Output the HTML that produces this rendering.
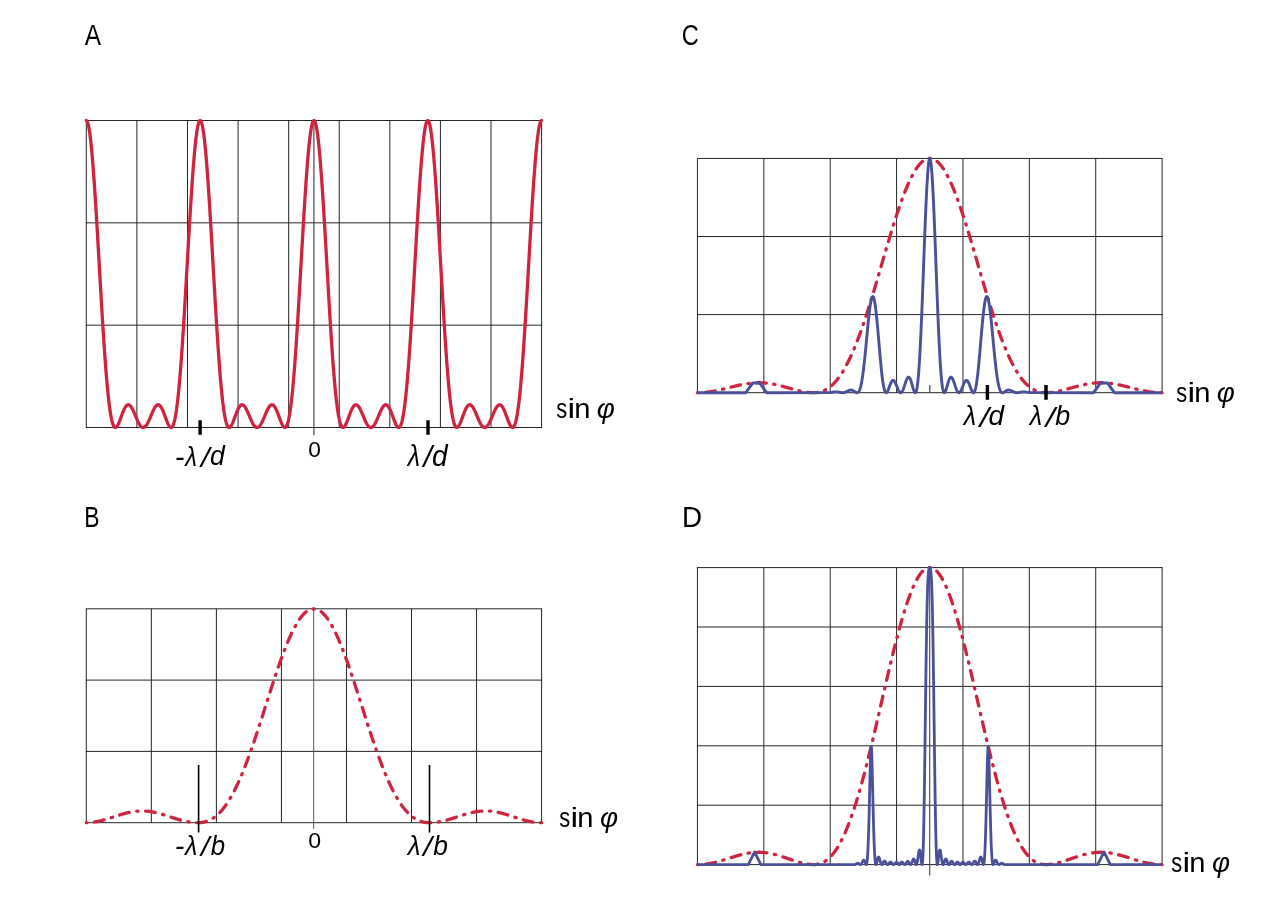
<!DOCTYPE html><html><head><meta charset="utf-8"><style>html,body{margin:0;padding:0;background:#fff;overflow:hidden}svg{display:block;will-change:transform}text{font-family:"Liberation Sans",sans-serif;fill:#000}</style></head><body>
<svg width="1280" height="912" viewBox="0 0 1280 912">
<rect width="1280" height="912" fill="#fff"/>
<path d="M86.30 120.50V427.50M136.89 120.50V427.50M187.48 120.50V427.50M238.07 120.50V427.50M288.66 120.50V427.50M339.24 120.50V427.50M389.83 120.50V427.50M440.42 120.50V427.50M491.01 120.50V427.50M541.60 120.50V427.50M85.80 120.50H542.10M85.80 222.83H542.10M85.80 325.17H542.10M85.80 427.50H542.10" stroke="#242424" stroke-width="1.0" fill="none"/>
<path d="M313.95 120.5V435.4" stroke="#242424" stroke-width="1"/>
<path d="M86.30 120.50L86.70 120.67L87.10 121.18L87.50 122.03L87.90 123.22L88.30 124.75L88.70 126.60L89.10 128.78L89.50 131.28L89.90 134.10L90.30 137.23L90.70 140.65L91.10 144.37L91.50 148.37L91.90 152.65L92.30 157.19L92.70 161.98L93.10 167.01L93.50 172.27L93.90 177.74L94.30 183.42L94.70 189.29L95.10 195.33L95.50 201.54L95.90 207.89L96.30 214.37L96.70 220.96L97.10 227.66L97.50 234.44L97.90 241.30L98.30 248.20L98.70 255.15L99.10 262.11L99.50 269.08L99.90 276.05L100.30 282.98L100.70 289.88L101.10 296.73L101.50 303.50L101.90 310.19L102.30 316.79L102.70 323.27L103.10 329.63L103.50 335.86L103.90 341.94L104.30 347.86L104.70 353.61L105.10 359.18L105.50 364.56L105.90 369.75L106.30 374.73L106.70 379.50L107.10 384.06L107.50 388.39L107.90 392.50L108.30 396.37L108.70 400.01L109.11 403.42L109.51 406.59L109.91 409.52L110.31 412.22L110.71 414.68L111.11 416.91L111.51 418.91L111.91 420.68L112.31 422.24L112.71 423.58L113.11 424.71L113.51 425.63L113.91 426.36L114.31 426.91L114.71 427.27L115.11 427.46L115.51 427.49L115.91 427.37L116.31 427.11L116.71 426.72L117.11 426.21L117.51 425.60L117.91 424.88L118.31 424.08L118.71 423.20L119.11 422.26L119.51 421.26L119.91 420.23L120.31 419.16L120.71 418.08L121.11 416.98L121.51 415.89L121.91 414.80L122.31 413.74L122.71 412.70L123.11 411.70L123.51 410.74L123.91 409.84L124.31 409.00L124.71 408.21L125.11 407.50L125.51 406.87L125.91 406.31L126.31 405.83L126.71 405.44L127.11 405.14L127.51 404.92L127.91 404.80L128.31 404.76L128.71 404.81L129.11 404.95L129.51 405.17L129.91 405.48L130.31 405.86L130.71 406.32L131.11 406.86L131.51 407.46L131.91 408.12L132.31 408.84L132.71 409.61L133.11 410.43L133.51 411.29L133.91 412.18L134.31 413.09L134.71 414.03L135.11 414.98L135.51 415.93L135.91 416.88L136.31 417.83L136.71 418.76L137.11 419.68L137.51 420.56L137.91 421.42L138.31 422.23L138.71 423.00L139.11 423.73L139.51 424.40L139.91 425.01L140.31 425.57L140.71 426.05L141.11 426.48L141.51 426.83L141.91 427.10L142.31 427.31L142.71 427.44L143.11 427.50L143.51 427.48L143.91 427.39L144.31 427.22L144.71 426.97L145.11 426.66L145.51 426.27L145.91 425.82L146.31 425.30L146.71 424.71L147.11 424.07L147.51 423.37L147.91 422.62L148.31 421.83L148.71 420.99L149.11 420.12L149.51 419.22L149.91 418.30L150.31 417.36L150.71 416.41L151.11 415.45L151.51 414.50L151.91 413.56L152.31 412.63L152.71 411.73L153.11 410.85L153.51 410.02L153.91 409.22L154.31 408.47L154.72 407.78L155.12 407.15L155.52 406.58L155.92 406.08L156.32 405.66L156.72 405.31L157.12 405.05L157.52 404.87L157.92 404.77L158.32 404.77L158.72 404.85L159.12 405.02L159.52 405.28L159.92 405.63L160.32 406.06L160.72 406.58L161.12 407.18L161.52 407.85L161.92 408.60L162.32 409.41L162.72 410.29L163.12 411.22L163.52 412.19L163.92 413.21L164.32 414.27L164.72 415.34L165.12 416.43L165.52 417.53L165.92 418.62L166.32 419.70L166.72 420.75L167.12 421.77L167.52 422.74L167.92 423.65L168.32 424.49L168.72 425.25L169.12 425.92L169.52 426.48L169.92 426.93L170.32 427.26L170.72 427.45L171.12 427.50L171.52 427.39L171.92 427.11L172.32 426.66L172.72 426.02L173.12 425.19L173.52 424.17L173.92 422.93L174.32 421.49L174.72 419.82L175.12 417.94L175.52 415.82L175.92 413.48L176.32 410.90L176.72 408.08L177.12 405.03L177.52 401.74L177.92 398.22L178.32 394.46L178.72 390.47L179.12 386.25L179.52 381.81L179.92 377.14L180.32 372.27L180.72 367.18L181.12 361.89L181.52 356.42L181.92 350.75L182.32 344.92L182.72 338.92L183.12 332.76L183.52 326.47L183.92 320.04L184.32 313.50L184.72 306.86L185.12 300.12L185.52 293.31L185.92 286.44L186.32 279.52L186.72 272.57L187.12 265.60L187.52 258.63L187.92 251.67L188.32 244.74L188.72 237.86L189.12 231.04L189.52 224.30L189.92 217.65L190.32 211.11L190.72 204.69L191.12 198.41L191.52 192.29L191.92 186.33L192.32 180.56L192.72 174.98L193.12 169.61L193.52 164.46L193.92 159.55L194.32 154.88L194.72 150.48L195.12 146.34L195.52 142.48L195.92 138.90L196.32 135.63L196.72 132.65L197.12 129.99L197.52 127.65L197.92 125.63L198.32 123.94L198.72 122.59L199.12 121.57L199.52 120.88L199.92 120.54L200.33 120.54L200.73 120.88L201.13 121.57L201.53 122.59L201.93 123.94L202.33 125.63L202.73 127.65L203.13 129.99L203.53 132.65L203.93 135.63L204.33 138.90L204.73 142.48L205.13 146.34L205.53 150.48L205.93 154.88L206.33 159.55L206.73 164.46L207.13 169.61L207.53 174.98L207.93 180.56L208.33 186.33L208.73 192.29L209.13 198.41L209.53 204.69L209.93 211.11L210.33 217.65L210.73 224.30L211.13 231.04L211.53 237.86L211.93 244.74L212.33 251.67L212.73 258.63L213.13 265.60L213.53 272.57L213.93 279.52L214.33 286.44L214.73 293.31L215.13 300.12L215.53 306.86L215.93 313.50L216.33 320.04L216.73 326.47L217.13 332.76L217.53 338.92L217.93 344.92L218.33 350.75L218.73 356.42L219.13 361.89L219.53 367.18L219.93 372.27L220.33 377.14L220.73 381.81L221.13 386.25L221.53 390.47L221.93 394.46L222.33 398.22L222.73 401.74L223.13 405.03L223.53 408.08L223.93 410.90L224.33 413.48L224.73 415.82L225.13 417.94L225.53 419.82L225.93 421.49L226.33 422.93L226.73 424.17L227.13 425.19L227.53 426.02L227.93 426.66L228.33 427.11L228.73 427.39L229.13 427.50L229.53 427.45L229.93 427.26L230.33 426.93L230.73 426.48L231.13 425.92L231.53 425.25L231.93 424.49L232.33 423.65L232.73 422.74L233.13 421.77L233.53 420.75L233.93 419.70L234.33 418.62L234.73 417.53L235.13 416.43L235.53 415.34L235.93 414.27L236.33 413.21L236.73 412.19L237.13 411.22L237.53 410.29L237.93 409.41L238.33 408.60L238.73 407.85L239.13 407.18L239.53 406.58L239.93 406.06L240.33 405.63L240.73 405.28L241.13 405.02L241.53 404.85L241.93 404.77L242.33 404.77L242.73 404.87L243.13 405.05L243.53 405.31L243.93 405.66L244.33 406.08L244.73 406.58L245.13 407.15L245.53 407.78L245.94 408.47L246.34 409.22L246.74 410.02L247.14 410.85L247.54 411.73L247.94 412.63L248.34 413.56L248.74 414.50L249.14 415.45L249.54 416.41L249.94 417.36L250.34 418.30L250.74 419.22L251.14 420.12L251.54 420.99L251.94 421.83L252.34 422.62L252.74 423.37L253.14 424.07L253.54 424.71L253.94 425.30L254.34 425.82L254.74 426.27L255.14 426.66L255.54 426.97L255.94 427.22L256.34 427.39L256.74 427.48L257.14 427.50L257.54 427.44L257.94 427.31L258.34 427.10L258.74 426.83L259.14 426.48L259.54 426.05L259.94 425.57L260.34 425.01L260.74 424.40L261.14 423.73L261.54 423.00L261.94 422.23L262.34 421.42L262.74 420.56L263.14 419.68L263.54 418.76L263.94 417.83L264.34 416.88L264.74 415.93L265.14 414.98L265.54 414.03L265.94 413.09L266.34 412.18L266.74 411.29L267.14 410.43L267.54 409.61L267.94 408.84L268.34 408.12L268.74 407.46L269.14 406.86L269.54 406.32L269.94 405.86L270.34 405.48L270.74 405.17L271.14 404.95L271.54 404.81L271.94 404.76L272.34 404.80L272.74 404.92L273.14 405.14L273.54 405.44L273.94 405.83L274.34 406.31L274.74 406.87L275.14 407.50L275.54 408.21L275.94 409.00L276.34 409.84L276.74 410.74L277.14 411.70L277.54 412.70L277.94 413.74L278.34 414.80L278.74 415.89L279.14 416.98L279.54 418.08L279.94 419.16L280.34 420.23L280.74 421.26L281.14 422.26L281.54 423.20L281.94 424.08L282.34 424.88L282.74 425.60L283.14 426.21L283.54 426.72L283.94 427.11L284.34 427.37L284.74 427.49L285.14 427.46L285.54 427.27L285.94 426.91L286.34 426.36L286.74 425.63L287.14 424.71L287.54 423.58L287.94 422.24L288.34 420.68L288.74 418.91L289.14 416.91L289.54 414.68L289.94 412.22L290.34 409.52L290.74 406.59L291.14 403.42L291.55 400.01L291.95 396.37L292.35 392.50L292.75 388.39L293.15 384.06L293.55 379.50L293.95 374.73L294.35 369.75L294.75 364.56L295.15 359.18L295.55 353.61L295.95 347.86L296.35 341.94L296.75 335.86L297.15 329.63L297.55 323.27L297.95 316.79L298.35 310.19L298.75 303.50L299.15 296.73L299.55 289.88L299.95 282.98L300.35 276.05L300.75 269.08L301.15 262.11L301.55 255.15L301.95 248.20L302.35 241.30L302.75 234.44L303.15 227.66L303.55 220.96L303.95 214.37L304.35 207.89L304.75 201.54L305.15 195.33L305.55 189.29L305.95 183.42L306.35 177.74L306.75 172.27L307.15 167.01L307.55 161.98L307.95 157.19L308.35 152.65L308.75 148.37L309.15 144.37L309.55 140.65L309.95 137.23L310.35 134.10L310.75 131.28L311.15 128.78L311.55 126.60L311.95 124.75L312.35 123.22L312.75 122.03L313.15 121.18L313.55 120.67L313.95 120.50L314.35 120.67L314.75 121.18L315.15 122.03L315.55 123.22L315.95 124.75L316.35 126.60L316.75 128.78L317.15 131.28L317.55 134.10L317.95 137.23L318.35 140.65L318.75 144.37L319.15 148.37L319.55 152.65L319.95 157.19L320.35 161.98L320.75 167.01L321.15 172.27L321.55 177.74L321.95 183.42L322.35 189.29L322.75 195.33L323.15 201.54L323.55 207.89L323.95 214.37L324.35 220.96L324.75 227.66L325.15 234.44L325.55 241.30L325.95 248.20L326.35 255.15L326.75 262.11L327.15 269.08L327.55 276.05L327.95 282.98L328.35 289.88L328.75 296.73L329.15 303.50L329.55 310.19L329.95 316.79L330.35 323.27L330.75 329.63L331.15 335.86L331.55 341.94L331.95 347.86L332.35 353.61L332.75 359.18L333.15 364.56L333.55 369.75L333.95 374.73L334.35 379.50L334.75 384.06L335.15 388.39L335.55 392.50L335.95 396.37L336.35 400.01L336.76 403.42L337.16 406.59L337.56 409.52L337.96 412.22L338.36 414.68L338.76 416.91L339.16 418.91L339.56 420.68L339.96 422.24L340.36 423.58L340.76 424.71L341.16 425.63L341.56 426.36L341.96 426.91L342.36 427.27L342.76 427.46L343.16 427.49L343.56 427.37L343.96 427.11L344.36 426.72L344.76 426.21L345.16 425.60L345.56 424.88L345.96 424.08L346.36 423.20L346.76 422.26L347.16 421.26L347.56 420.23L347.96 419.16L348.36 418.08L348.76 416.98L349.16 415.89L349.56 414.80L349.96 413.74L350.36 412.70L350.76 411.70L351.16 410.74L351.56 409.84L351.96 409.00L352.36 408.21L352.76 407.50L353.16 406.87L353.56 406.31L353.96 405.83L354.36 405.44L354.76 405.14L355.16 404.92L355.56 404.80L355.96 404.76L356.36 404.81L356.76 404.95L357.16 405.17L357.56 405.48L357.96 405.86L358.36 406.32L358.76 406.86L359.16 407.46L359.56 408.12L359.96 408.84L360.36 409.61L360.76 410.43L361.16 411.29L361.56 412.18L361.96 413.09L362.36 414.03L362.76 414.98L363.16 415.93L363.56 416.88L363.96 417.83L364.36 418.76L364.76 419.68L365.16 420.56L365.56 421.42L365.96 422.23L366.36 423.00L366.76 423.73L367.16 424.40L367.56 425.01L367.96 425.57L368.36 426.05L368.76 426.48L369.16 426.83L369.56 427.10L369.96 427.31L370.36 427.44L370.76 427.50L371.16 427.48L371.56 427.39L371.96 427.22L372.36 426.97L372.76 426.66L373.16 426.27L373.56 425.82L373.96 425.30L374.36 424.71L374.76 424.07L375.16 423.37L375.56 422.62L375.96 421.83L376.36 420.99L376.76 420.12L377.16 419.22L377.56 418.30L377.96 417.36L378.36 416.41L378.76 415.45L379.16 414.50L379.56 413.56L379.96 412.63L380.36 411.73L380.76 410.85L381.16 410.02L381.56 409.22L381.96 408.47L382.37 407.78L382.77 407.15L383.17 406.58L383.57 406.08L383.97 405.66L384.37 405.31L384.77 405.05L385.17 404.87L385.57 404.77L385.97 404.77L386.37 404.85L386.77 405.02L387.17 405.28L387.57 405.63L387.97 406.06L388.37 406.58L388.77 407.18L389.17 407.85L389.57 408.60L389.97 409.41L390.37 410.29L390.77 411.22L391.17 412.19L391.57 413.21L391.97 414.27L392.37 415.34L392.77 416.43L393.17 417.53L393.57 418.62L393.97 419.70L394.37 420.75L394.77 421.77L395.17 422.74L395.57 423.65L395.97 424.49L396.37 425.25L396.77 425.92L397.17 426.48L397.57 426.93L397.97 427.26L398.37 427.45L398.77 427.50L399.17 427.39L399.57 427.11L399.97 426.66L400.37 426.02L400.77 425.19L401.17 424.17L401.57 422.93L401.97 421.49L402.37 419.82L402.77 417.94L403.17 415.82L403.57 413.48L403.97 410.90L404.37 408.08L404.77 405.03L405.17 401.74L405.57 398.22L405.97 394.46L406.37 390.47L406.77 386.25L407.17 381.81L407.57 377.14L407.97 372.27L408.37 367.18L408.77 361.89L409.17 356.42L409.57 350.75L409.97 344.92L410.37 338.92L410.77 332.76L411.17 326.47L411.57 320.04L411.97 313.50L412.37 306.86L412.77 300.12L413.17 293.31L413.57 286.44L413.97 279.52L414.37 272.57L414.77 265.60L415.17 258.63L415.57 251.67L415.97 244.74L416.37 237.86L416.77 231.04L417.17 224.30L417.57 217.65L417.97 211.11L418.37 204.69L418.77 198.41L419.17 192.29L419.57 186.33L419.97 180.56L420.37 174.98L420.77 169.61L421.17 164.46L421.57 159.55L421.97 154.88L422.37 150.48L422.77 146.34L423.17 142.48L423.57 138.90L423.97 135.63L424.37 132.65L424.77 129.99L425.17 127.65L425.57 125.63L425.97 123.94L426.37 122.59L426.77 121.57L427.17 120.88L427.57 120.54L427.98 120.54L428.38 120.88L428.78 121.57L429.18 122.59L429.58 123.94L429.98 125.63L430.38 127.65L430.78 129.99L431.18 132.65L431.58 135.63L431.98 138.90L432.38 142.48L432.78 146.34L433.18 150.48L433.58 154.88L433.98 159.55L434.38 164.46L434.78 169.61L435.18 174.98L435.58 180.56L435.98 186.33L436.38 192.29L436.78 198.41L437.18 204.69L437.58 211.11L437.98 217.65L438.38 224.30L438.78 231.04L439.18 237.86L439.58 244.74L439.98 251.67L440.38 258.63L440.78 265.60L441.18 272.57L441.58 279.52L441.98 286.44L442.38 293.31L442.78 300.12L443.18 306.86L443.58 313.50L443.98 320.04L444.38 326.47L444.78 332.76L445.18 338.92L445.58 344.92L445.98 350.75L446.38 356.42L446.78 361.89L447.18 367.18L447.58 372.27L447.98 377.14L448.38 381.81L448.78 386.25L449.18 390.47L449.58 394.46L449.98 398.22L450.38 401.74L450.78 405.03L451.18 408.08L451.58 410.90L451.98 413.48L452.38 415.82L452.78 417.94L453.18 419.82L453.58 421.49L453.98 422.93L454.38 424.17L454.78 425.19L455.18 426.02L455.58 426.66L455.98 427.11L456.38 427.39L456.78 427.50L457.18 427.45L457.58 427.26L457.98 426.93L458.38 426.48L458.78 425.92L459.18 425.25L459.58 424.49L459.98 423.65L460.38 422.74L460.78 421.77L461.18 420.75L461.58 419.70L461.98 418.62L462.38 417.53L462.78 416.43L463.18 415.34L463.58 414.27L463.98 413.21L464.38 412.19L464.78 411.22L465.18 410.29L465.58 409.41L465.98 408.60L466.38 407.85L466.78 407.18L467.18 406.58L467.58 406.06L467.98 405.63L468.38 405.28L468.78 405.02L469.18 404.85L469.58 404.77L469.98 404.77L470.38 404.87L470.78 405.05L471.18 405.31L471.58 405.66L471.98 406.08L472.38 406.58L472.78 407.15L473.18 407.78L473.59 408.47L473.99 409.22L474.39 410.02L474.79 410.85L475.19 411.73L475.59 412.63L475.99 413.56L476.39 414.50L476.79 415.45L477.19 416.41L477.59 417.36L477.99 418.30L478.39 419.22L478.79 420.12L479.19 420.99L479.59 421.83L479.99 422.62L480.39 423.37L480.79 424.07L481.19 424.71L481.59 425.30L481.99 425.82L482.39 426.27L482.79 426.66L483.19 426.97L483.59 427.22L483.99 427.39L484.39 427.48L484.79 427.50L485.19 427.44L485.59 427.31L485.99 427.10L486.39 426.83L486.79 426.48L487.19 426.05L487.59 425.57L487.99 425.01L488.39 424.40L488.79 423.73L489.19 423.00L489.59 422.23L489.99 421.42L490.39 420.56L490.79 419.68L491.19 418.76L491.59 417.83L491.99 416.88L492.39 415.93L492.79 414.98L493.19 414.03L493.59 413.09L493.99 412.18L494.39 411.29L494.79 410.43L495.19 409.61L495.59 408.84L495.99 408.12L496.39 407.46L496.79 406.86L497.19 406.32L497.59 405.86L497.99 405.48L498.39 405.17L498.79 404.95L499.19 404.81L499.59 404.76L499.99 404.80L500.39 404.92L500.79 405.14L501.19 405.44L501.59 405.83L501.99 406.31L502.39 406.87L502.79 407.50L503.19 408.21L503.59 409.00L503.99 409.84L504.39 410.74L504.79 411.70L505.19 412.70L505.59 413.74L505.99 414.80L506.39 415.89L506.79 416.98L507.19 418.08L507.59 419.16L507.99 420.23L508.39 421.26L508.79 422.26L509.19 423.20L509.59 424.08L509.99 424.88L510.39 425.60L510.79 426.21L511.19 426.72L511.59 427.11L511.99 427.37L512.39 427.49L512.79 427.46L513.19 427.27L513.59 426.91L513.99 426.36L514.39 425.63L514.79 424.71L515.19 423.58L515.59 422.24L515.99 420.68L516.39 418.91L516.79 416.91L517.19 414.68L517.59 412.22L517.99 409.52L518.39 406.59L518.79 403.42L519.20 400.01L519.60 396.37L520.00 392.50L520.40 388.39L520.80 384.06L521.20 379.50L521.60 374.73L522.00 369.75L522.40 364.56L522.80 359.18L523.20 353.61L523.60 347.86L524.00 341.94L524.40 335.86L524.80 329.63L525.20 323.27L525.60 316.79L526.00 310.19L526.40 303.50L526.80 296.73L527.20 289.88L527.60 282.98L528.00 276.05L528.40 269.08L528.80 262.11L529.20 255.15L529.60 248.20L530.00 241.30L530.40 234.44L530.80 227.66L531.20 220.96L531.60 214.37L532.00 207.89L532.40 201.54L532.80 195.33L533.20 189.29L533.60 183.42L534.00 177.74L534.40 172.27L534.80 167.01L535.20 161.98L535.60 157.19L536.00 152.65L536.40 148.37L536.80 144.37L537.20 140.65L537.60 137.23L538.00 134.10L538.40 131.28L538.80 128.78L539.20 126.60L539.60 124.75L540.00 123.22L540.40 122.03L540.80 121.18L541.20 120.67L541.60 120.50" stroke="#cf2440" stroke-width="3.3" fill="none" stroke-linejoin="round" stroke-linecap="round"/>
<path d="M200.1 420.2V434.7M428.0 420.2V434.7" stroke="#000" stroke-width="3.4"/>
<text transform="matrix(1.0371 0 0 1 174.75 465.60)" font-size="28.00" font-style="italic">-</text><text transform="matrix(0.8485 0 0 1 185.17 465.70)" font-size="27.95" font-style="italic">λ</text><text transform="matrix(1.0795 0 0 1 200.88 466.72)" font-size="28.23" font-style="italic">/</text><text transform="matrix(0.9557 0 0 1 210.07 465.48)" font-size="27.84" font-style="italic">d</text>
<text transform="matrix(0.8688 0 0 1 407.73 465.75)" font-size="28.84" font-style="italic">λ</text><text transform="matrix(1.0516 0 0 1 423.58 466.91)" font-size="28.98" font-style="italic">/</text><text transform="matrix(0.9776 0 0 1 432.12 465.52)" font-size="28.72" font-style="italic">d</text>
<text transform="matrix(1.0465 0 0 1 308.19 457.40)" font-size="21.7">0</text>
<text transform="matrix(0.7856 0 0 1 556.14 418.10)" font-size="27.80">s</text><text transform="matrix(1.2390 0 0 1 567.46 418.10)" font-size="27.80">i</text><text transform="matrix(1.0495 0 0 1 574.20 418.10)" font-size="27.80">n</text><text transform="matrix(0.9961 0 0 1 596.83 418.10)" font-size="27.80" font-style="italic">φ</text>
<text transform="matrix(0.8470 0 0 1 84.70 44.80)" font-size="28.8">A</text>
<path d="M86.30 608.80V822.70M151.34 608.80V822.70M216.39 608.80V822.70M281.43 608.80V822.70M346.47 608.80V822.70M411.51 608.80V822.70M476.56 608.80V822.70M541.60 608.80V822.70M85.80 608.80H542.10M85.80 680.10H542.10M85.80 751.40H542.10M85.80 822.70H542.10" stroke="#242424" stroke-width="1.0" fill="none"/>
<path d="M313.70 608.8V828.8" stroke="#555" stroke-width="1"/>
<path d="M313.70 608.80L313.20 608.81L312.70 608.85L312.20 608.92L311.70 609.01L311.20 609.13L310.69 609.28L310.19 609.45L309.69 609.64L309.19 609.87L308.69 610.12L308.19 610.39L307.69 610.70L307.19 611.02L306.69 611.38L306.19 611.76L305.69 612.16L305.19 612.59L304.68 613.05L304.18 613.53L303.68 614.03L303.18 614.56L302.68 615.12L302.18 615.70L301.68 616.30L301.18 616.93L300.68 617.58L300.18 618.26L299.68 618.96L299.17 619.68L298.67 620.43L298.17 621.20L297.67 621.99L297.17 622.81L296.67 623.64L296.17 624.50L295.67 625.38L295.17 626.29L294.67 627.21L294.17 628.15L293.66 629.12L293.16 630.11L292.66 631.11L292.16 632.14L291.66 633.18L291.16 634.25L290.66 635.33L290.16 636.44L289.66 637.56L289.16 638.70L288.66 639.85L288.16 641.03L287.65 642.22L287.15 643.43L286.65 644.65L286.15 645.89L285.65 647.15L285.15 648.42L284.65 649.71L284.15 651.01L283.65 652.33L283.15 653.66L282.65 655.00L282.14 656.36L281.64 657.72L281.14 659.11L280.64 660.50L280.14 661.90L279.64 663.32L279.14 664.75L278.64 666.19L278.14 667.63L277.64 669.09L277.14 670.56L276.63 672.04L276.13 673.52L275.63 675.01L275.13 676.51L274.63 678.02L274.13 679.54L273.63 681.06L273.13 682.59L272.63 684.12L272.13 685.66L271.63 687.20L271.13 688.75L270.62 690.30L270.12 691.86L269.62 693.42L269.12 694.98L268.62 696.55L268.12 698.11L267.62 699.68L267.12 701.25L266.62 702.83L266.12 704.40L265.62 705.97L265.11 707.54L264.61 709.12L264.11 710.69L263.61 712.26L263.11 713.82L262.61 715.39L262.11 716.96L261.61 718.52L261.11 720.08L260.61 721.63L260.11 723.18L259.60 724.73L259.10 726.27L258.60 727.81L258.10 729.34L257.60 730.87L257.10 732.39L256.60 733.90L256.10 735.41L255.60 736.91L255.10 738.41L254.60 739.90L254.10 741.38L253.59 742.85L253.09 744.31L252.59 745.76L252.09 747.21L251.59 748.65L251.09 750.07L250.59 751.49L250.09 752.90L249.59 754.29L249.09 755.68L248.59 757.06L248.08 758.42L247.58 759.77L247.08 761.11L246.58 762.44L246.08 763.76L245.58 765.07L245.08 766.36L244.58 767.64L244.08 768.91L243.58 770.16L243.08 771.41L242.57 772.63L242.07 773.85L241.57 775.05L241.07 776.24L240.57 777.41L240.07 778.57L239.57 779.71L239.07 780.84L238.57 781.96L238.07 783.06L237.57 784.15L237.07 785.22L236.56 786.27L236.06 787.31L235.56 788.34L235.06 789.35L234.56 790.34L234.06 791.32L233.56 792.28L233.06 793.23L232.56 794.16L232.06 795.08L231.56 795.98L231.05 796.86L230.55 797.73L230.05 798.59L229.55 799.42L229.05 800.24L228.55 801.05L228.05 801.84L227.55 802.61L227.05 803.36L226.55 804.11L226.05 804.83L225.54 805.54L225.04 806.23L224.54 806.91L224.04 807.57L223.54 808.21L223.04 808.84L222.54 809.46L222.04 810.06L221.54 810.64L221.04 811.21L220.54 811.76L220.04 812.29L219.53 812.82L219.03 813.32L218.53 813.81L218.03 814.29L217.53 814.75L217.03 815.20L216.53 815.63L216.03 816.05L215.53 816.45L215.03 816.84L214.53 817.21L214.02 817.57L213.52 817.92L213.02 818.25L212.52 818.57L212.02 818.88L211.52 819.17L211.02 819.45L210.52 819.72L210.02 819.97L209.52 820.21L209.02 820.44L208.51 820.66L208.01 820.86L207.51 821.06L207.01 821.24L206.51 821.41L206.01 821.56L205.51 821.71L205.01 821.85L204.51 821.97L204.01 822.09L203.51 822.19L203.01 822.28L202.50 822.37L202.00 822.44L201.50 822.50L201.00 822.56L200.50 822.60L200.00 822.64L199.50 822.67L199.00 822.69L198.50 822.70L198.00 822.70L197.50 822.70L196.99 822.69L196.49 822.68L195.99 822.66L195.49 822.64L194.99 822.61L194.49 822.58L193.99 822.55L193.49 822.51L192.99 822.46L192.49 822.41L191.99 822.36L191.49 822.30L190.98 822.24L190.48 822.17L189.98 822.10L189.48 822.03L188.98 821.95L188.48 821.87L187.98 821.78L187.48 821.69L186.98 821.60L186.48 821.50L185.98 821.40L185.47 821.29L184.97 821.18L184.47 821.07L183.97 820.96L183.47 820.84L182.97 820.72L182.47 820.59L181.97 820.46L181.47 820.33L180.97 820.20L180.47 820.06L179.96 819.92L179.46 819.78L178.96 819.64L178.46 819.49L177.96 819.34L177.46 819.19L176.96 819.04L176.46 818.89L175.96 818.73L175.46 818.58L174.96 818.42L174.46 818.26L173.95 818.10L173.45 817.94L172.95 817.78L172.45 817.61L171.95 817.45L171.45 817.29L170.95 817.12L170.45 816.96L169.95 816.79L169.45 816.63L168.95 816.46L168.44 816.30L167.94 816.13L167.44 815.97L166.94 815.81L166.44 815.65L165.94 815.49L165.44 815.33L164.94 815.17L164.44 815.01L163.94 814.85L163.44 814.70L162.93 814.55L162.43 814.39L161.93 814.24L161.43 814.10L160.93 813.95L160.43 813.81L159.93 813.67L159.43 813.53L158.93 813.40L158.43 813.26L157.93 813.13L157.43 813.01L156.92 812.88L156.42 812.76L155.92 812.64L155.42 812.53L154.92 812.42L154.42 812.31L153.92 812.21L153.42 812.11L152.92 812.01L152.42 811.92L151.92 811.83L151.41 811.74L150.91 811.66L150.41 811.58L149.91 811.51L149.41 811.44L148.91 811.38L148.41 811.32L147.91 811.26L147.41 811.21L146.91 811.16L146.41 811.12L145.90 811.08L145.40 811.04L144.90 811.02L144.40 810.99L143.90 810.97L143.40 810.95L142.90 810.94L142.40 810.94L141.90 810.94L141.40 810.94L140.90 810.95L140.40 810.96L139.89 810.97L139.39 811.00L138.89 811.02L138.39 811.05L137.89 811.09L137.39 811.13L136.89 811.17L136.39 811.22L135.89 811.27L135.39 811.33L134.89 811.39L134.38 811.45L133.88 811.52L133.38 811.60L132.88 811.68L132.38 811.76L131.88 811.84L131.38 811.93L130.88 812.03L130.38 812.13L129.88 812.23L129.38 812.33L128.87 812.44L128.37 812.55L127.87 812.67L127.37 812.79L126.87 812.91L126.37 813.03L125.87 813.16L125.37 813.29L124.87 813.42L124.37 813.56L123.87 813.70L123.37 813.84L122.86 813.98L122.36 814.13L121.86 814.28L121.36 814.43L120.86 814.58L120.36 814.73L119.86 814.88L119.36 815.04L118.86 815.20L118.36 815.36L117.86 815.52L117.35 815.68L116.85 815.84L116.35 816.00L115.85 816.17L115.35 816.33L114.85 816.50L114.35 816.66L113.85 816.83L113.35 816.99L112.85 817.16L112.35 817.32L111.84 817.48L111.34 817.65L110.84 817.81L110.34 817.97L109.84 818.13L109.34 818.29L108.84 818.45L108.34 818.61L107.84 818.77L107.34 818.92L106.84 819.07L106.34 819.23L105.83 819.38L105.33 819.52L104.83 819.67L104.33 819.81L103.83 819.95L103.33 820.09L102.83 820.23L102.33 820.36L101.83 820.49L101.33 820.62L100.83 820.74L100.32 820.86L99.82 820.98L99.32 821.10L98.82 821.21L98.32 821.31L97.82 821.42L97.32 821.52L96.82 821.62L96.32 821.71L95.82 821.80L95.32 821.89L94.81 821.97L94.31 822.05L93.81 822.12L93.31 822.19L92.81 822.25L92.31 822.31L91.81 822.37L91.31 822.42L90.81 822.47L90.31 822.51L89.81 822.55L89.31 822.59L88.80 822.62L88.30 822.64L87.80 822.66L87.30 822.68L86.80 822.69L86.30 822.70M313.70 608.80L314.20 608.81L314.70 608.85L315.20 608.92L315.70 609.01L316.20 609.13L316.71 609.28L317.21 609.45L317.71 609.64L318.21 609.87L318.71 610.12L319.21 610.39L319.71 610.70L320.21 611.02L320.71 611.38L321.21 611.76L321.71 612.16L322.21 612.59L322.72 613.05L323.22 613.53L323.72 614.03L324.22 614.56L324.72 615.12L325.22 615.70L325.72 616.30L326.22 616.93L326.72 617.58L327.22 618.26L327.72 618.96L328.23 619.68L328.73 620.43L329.23 621.20L329.73 621.99L330.23 622.81L330.73 623.64L331.23 624.50L331.73 625.38L332.23 626.29L332.73 627.21L333.23 628.15L333.74 629.12L334.24 630.11L334.74 631.11L335.24 632.14L335.74 633.18L336.24 634.25L336.74 635.33L337.24 636.44L337.74 637.56L338.24 638.70L338.74 639.85L339.24 641.03L339.75 642.22L340.25 643.43L340.75 644.65L341.25 645.89L341.75 647.15L342.25 648.42L342.75 649.71L343.25 651.01L343.75 652.33L344.25 653.66L344.75 655.00L345.26 656.35L345.76 657.72L346.26 659.11L346.76 660.50L347.26 661.90L347.76 663.32L348.26 664.75L348.76 666.19L349.26 667.63L349.76 669.09L350.26 670.56L350.77 672.04L351.27 673.52L351.77 675.01L352.27 676.51L352.77 678.02L353.27 679.54L353.77 681.06L354.27 682.58L354.77 684.12L355.27 685.66L355.77 687.20L356.27 688.75L356.78 690.30L357.28 691.86L357.78 693.42L358.28 694.98L358.78 696.55L359.28 698.11L359.78 699.68L360.28 701.25L360.78 702.82L361.28 704.40L361.78 705.97L362.29 707.54L362.79 709.11L363.29 710.69L363.79 712.26L364.29 713.82L364.79 715.39L365.29 716.95L365.79 718.52L366.29 720.07L366.79 721.63L367.29 723.18L367.79 724.73L368.30 726.27L368.80 727.81L369.30 729.34L369.80 730.87L370.30 732.39L370.80 733.90L371.30 735.41L371.80 736.91L372.30 738.41L372.80 739.90L373.30 741.38L373.81 742.85L374.31 744.31L374.81 745.76L375.31 747.21L375.81 748.65L376.31 750.07L376.81 751.49L377.31 752.90L377.81 754.29L378.31 755.68L378.81 757.06L379.32 758.42L379.82 759.77L380.32 761.11L380.82 762.44L381.32 763.76L381.82 765.07L382.32 766.36L382.82 767.64L383.32 768.91L383.82 770.16L384.32 771.41L384.82 772.63L385.33 773.85L385.83 775.05L386.33 776.24L386.83 777.41L387.33 778.57L387.83 779.71L388.33 780.84L388.83 781.96L389.33 783.06L389.83 784.14L390.33 785.22L390.84 786.27L391.34 787.31L391.84 788.34L392.34 789.35L392.84 790.34L393.34 791.32L393.84 792.28L394.34 793.23L394.84 794.16L395.34 795.08L395.84 795.98L396.35 796.86L396.85 797.73L397.35 798.58L397.85 799.42L398.35 800.24L398.85 801.05L399.35 801.83L399.85 802.61L400.35 803.36L400.85 804.10L401.35 804.83L401.85 805.54L402.36 806.23L402.86 806.91L403.36 807.57L403.86 808.21L404.36 808.84L404.86 809.46L405.36 810.06L405.86 810.64L406.36 811.21L406.86 811.76L407.36 812.29L407.87 812.82L408.37 813.32L408.87 813.81L409.37 814.29L409.87 814.75L410.37 815.20L410.87 815.63L411.37 816.05L411.87 816.45L412.37 816.84L412.87 817.21L413.37 817.57L413.88 817.92L414.38 818.25L414.88 818.57L415.38 818.88L415.88 819.17L416.38 819.45L416.88 819.72L417.38 819.97L417.88 820.21L418.38 820.44L418.88 820.66L419.39 820.86L419.89 821.06L420.39 821.24L420.89 821.41L421.39 821.56L421.89 821.71L422.39 821.85L422.89 821.97L423.39 822.08L423.89 822.19L424.39 822.28L424.90 822.37L425.40 822.44L425.90 822.50L426.40 822.56L426.90 822.60L427.40 822.64L427.90 822.67L428.40 822.69L428.90 822.70L429.40 822.70L429.90 822.70L430.40 822.69L430.91 822.68L431.41 822.66L431.91 822.64L432.41 822.61L432.91 822.58L433.41 822.55L433.91 822.51L434.41 822.46L434.91 822.41L435.41 822.36L435.91 822.30L436.42 822.24L436.92 822.17L437.42 822.10L437.92 822.03L438.42 821.95L438.92 821.87L439.42 821.78L439.92 821.69L440.42 821.60L440.92 821.50L441.42 821.40L441.93 821.29L442.43 821.18L442.93 821.07L443.43 820.96L443.93 820.84L444.43 820.72L444.93 820.59L445.43 820.46L445.93 820.33L446.43 820.20L446.93 820.06L447.43 819.92L447.94 819.78L448.44 819.64L448.94 819.49L449.44 819.34L449.94 819.19L450.44 819.04L450.94 818.89L451.44 818.73L451.94 818.58L452.44 818.42L452.94 818.26L453.45 818.10L453.95 817.94L454.45 817.78L454.95 817.61L455.45 817.45L455.95 817.29L456.45 817.12L456.95 816.96L457.45 816.79L457.95 816.63L458.45 816.46L458.95 816.30L459.46 816.13L459.96 815.97L460.46 815.81L460.96 815.65L461.46 815.49L461.96 815.33L462.46 815.17L462.96 815.01L463.46 814.85L463.96 814.70L464.46 814.55L464.97 814.39L465.47 814.24L465.97 814.10L466.47 813.95L466.97 813.81L467.47 813.67L467.97 813.53L468.47 813.40L468.97 813.26L469.47 813.13L469.97 813.01L470.48 812.88L470.98 812.76L471.48 812.64L471.98 812.53L472.48 812.42L472.98 812.31L473.48 812.21L473.98 812.11L474.48 812.01L474.98 811.92L475.48 811.83L475.98 811.74L476.49 811.66L476.99 811.58L477.49 811.51L477.99 811.44L478.49 811.38L478.99 811.32L479.49 811.26L479.99 811.21L480.49 811.16L480.99 811.12L481.49 811.08L482.00 811.05L482.50 811.02L483.00 810.99L483.50 810.97L484.00 810.95L484.50 810.94L485.00 810.94L485.50 810.94L486.00 810.94L486.50 810.95L487.00 810.96L487.51 810.97L488.01 811.00L488.51 811.02L489.01 811.05L489.51 811.09L490.01 811.13L490.51 811.17L491.01 811.22L491.51 811.27L492.01 811.33L492.51 811.39L493.01 811.45L493.52 811.52L494.02 811.60L494.52 811.68L495.02 811.76L495.52 811.84L496.02 811.93L496.52 812.03L497.02 812.13L497.52 812.23L498.02 812.33L498.52 812.44L499.03 812.55L499.53 812.67L500.03 812.79L500.53 812.91L501.03 813.03L501.53 813.16L502.03 813.29L502.53 813.42L503.03 813.56L503.53 813.70L504.03 813.84L504.53 813.98L505.04 814.13L505.54 814.28L506.04 814.42L506.54 814.58L507.04 814.73L507.54 814.88L508.04 815.04L508.54 815.20L509.04 815.36L509.54 815.52L510.04 815.68L510.55 815.84L511.05 816.00L511.55 816.17L512.05 816.33L512.55 816.50L513.05 816.66L513.55 816.83L514.05 816.99L514.55 817.16L515.05 817.32L515.55 817.48L516.06 817.65L516.56 817.81L517.06 817.97L517.56 818.13L518.06 818.29L518.56 818.45L519.06 818.61L519.56 818.77L520.06 818.92L520.56 819.07L521.06 819.23L521.56 819.38L522.07 819.52L522.57 819.67L523.07 819.81L523.57 819.95L524.07 820.09L524.57 820.23L525.07 820.36L525.57 820.49L526.07 820.62L526.57 820.74L527.07 820.86L527.58 820.98L528.08 821.09L528.58 821.21L529.08 821.31L529.58 821.42L530.08 821.52L530.58 821.62L531.08 821.71L531.58 821.80L532.08 821.89L532.58 821.97L533.09 822.04L533.59 822.12L534.09 822.19L534.59 822.25L535.09 822.31L535.59 822.37L536.09 822.42L536.59 822.47L537.09 822.51L537.59 822.55L538.09 822.59L538.59 822.62L539.10 822.64L539.60 822.66L540.10 822.68L540.60 822.69L541.10 822.70L541.60 822.70" stroke="#cf2440" stroke-width="3.3" fill="none" stroke-linecap="round" stroke-dasharray="9.917 7.537 1.289 7.537" stroke-dashoffset="18.098490566037736"/>
<path d="M198.6 765V832.5M429.5 765V832.5" stroke="#000" stroke-width="1.6"/>
<text transform="matrix(1.0302 0 0 1 174.81 854.60)" font-size="28.00" font-style="italic">-</text><text transform="matrix(0.8877 0 0 1 184.88 854.70)" font-size="28.22" font-style="italic">λ</text><text transform="matrix(1.0619 0 0 1 201.04 855.62)" font-size="28.03" font-style="italic">/</text><text transform="matrix(0.9111 0 0 1 210.86 854.62)" font-size="28.30" font-style="italic">b</text>
<text transform="matrix(0.9133 0 0 1 407.76 854.70)" font-size="28.22" font-style="italic">λ</text><text transform="matrix(1.0969 0 0 1 423.32 855.62)" font-size="28.44" font-style="italic">/</text><text transform="matrix(0.9319 0 0 1 433.35 854.62)" font-size="28.30" font-style="italic">b</text>
<text transform="matrix(1.0559 0 0 1 308.18 848.40)" font-size="21.9">0</text>
<text transform="matrix(0.7856 0 0 1 559.24 826.90)" font-size="27.80">s</text><text transform="matrix(1.2390 0 0 1 570.56 826.90)" font-size="27.80">i</text><text transform="matrix(1.0495 0 0 1 577.30 826.90)" font-size="27.80">n</text><text transform="matrix(0.9961 0 0 1 599.93 826.90)" font-size="27.80" font-style="italic">φ</text>
<text transform="matrix(0.7927 0 0 1 84.17 526.80)" font-size="28.8">B</text>
<path d="M697.45 158.44V392.70M763.83 158.44V392.70M830.21 158.44V392.70M896.59 158.44V392.70M962.96 158.44V392.70M1029.34 158.44V392.70M1095.72 158.44V392.70M1162.10 158.44V392.70M696.95 158.44H1162.60M696.95 236.53H1162.60M696.95 314.61H1162.60M696.95 392.70H1162.60" stroke="#242424" stroke-width="1.0" fill="none"/>
<path d="M929.80 385V392.7" stroke="#444" stroke-width="1.2"/>
<path d="M929.80 158.44L929.30 158.45L928.80 158.50L928.30 158.57L927.80 158.67L927.30 158.80L926.80 158.96L926.29 159.14L925.79 159.36L925.29 159.60L924.79 159.87L924.29 160.17L923.79 160.50L923.29 160.86L922.79 161.24L922.29 161.65L921.79 162.09L921.29 162.56L920.79 163.06L920.29 163.58L919.78 164.13L919.28 164.71L918.78 165.31L918.28 165.94L917.78 166.60L917.28 167.28L916.78 167.99L916.28 168.72L915.78 169.49L915.28 170.27L914.78 171.08L914.28 171.92L913.78 172.78L913.28 173.67L912.77 174.58L912.27 175.51L911.77 176.47L911.27 177.45L910.77 178.46L910.27 179.49L909.77 180.54L909.27 181.61L908.77 182.70L908.27 183.82L907.77 184.96L907.27 186.12L906.77 187.30L906.26 188.50L905.76 189.72L905.26 190.96L904.76 192.21L904.26 193.49L903.76 194.79L903.26 196.10L902.76 197.44L902.26 198.79L901.76 200.15L901.26 201.54L900.76 202.94L900.26 204.36L899.75 205.79L899.25 207.24L898.75 208.70L898.25 210.17L897.75 211.66L897.25 213.17L896.75 214.69L896.25 216.22L895.75 217.76L895.25 219.31L894.75 220.88L894.25 222.46L893.75 224.05L893.24 225.64L892.74 227.25L892.24 228.87L891.74 230.49L891.24 232.13L890.74 233.77L890.24 235.42L889.74 237.08L889.24 238.75L888.74 240.42L888.24 242.09L887.74 243.78L887.24 245.47L886.74 247.16L886.23 248.85L885.73 250.56L885.23 252.26L884.73 253.97L884.23 255.68L883.73 257.39L883.23 259.10L882.73 260.82L882.23 262.53L881.73 264.25L881.23 265.96L880.73 267.68L880.23 269.39L879.72 271.11L879.22 272.82L878.72 274.53L878.22 276.24L877.72 277.94L877.22 279.64L876.72 281.34L876.22 283.04L875.72 284.73L875.22 286.41L874.72 288.09L874.22 289.77L873.72 291.43L873.21 293.10L872.71 294.75L872.21 296.40L871.71 298.04L871.21 299.68L870.71 301.30L870.21 302.92L869.71 304.53L869.21 306.13L868.71 307.72L868.21 309.31L867.71 310.88L867.21 312.44L866.70 313.99L866.20 315.53L865.70 317.06L865.20 318.58L864.70 320.08L864.20 321.58L863.70 323.06L863.20 324.53L862.70 325.99L862.20 327.43L861.70 328.86L861.20 330.28L860.70 331.69L860.20 333.08L859.69 334.45L859.19 335.82L858.69 337.16L858.19 338.50L857.69 339.82L857.19 341.12L856.69 342.41L856.19 343.68L855.69 344.94L855.19 346.18L854.69 347.41L854.19 348.62L853.69 349.81L853.18 350.99L852.68 352.15L852.18 353.29L851.68 354.42L851.18 355.53L850.68 356.63L850.18 357.71L849.68 358.77L849.18 359.81L848.68 360.84L848.18 361.85L847.68 362.84L847.18 363.82L846.67 364.77L846.17 365.71L845.67 366.64L845.17 367.54L844.67 368.43L844.17 369.30L843.67 370.16L843.17 371.00L842.67 371.81L842.17 372.62L841.67 373.40L841.17 374.17L840.67 374.92L840.16 375.65L839.66 376.37L839.16 377.07L838.66 377.75L838.16 378.41L837.66 379.06L837.16 379.69L836.66 380.30L836.16 380.90L835.66 381.48L835.16 382.04L834.66 382.59L834.16 383.12L833.66 383.64L833.15 384.13L832.65 384.62L832.15 385.08L831.65 385.54L831.15 385.97L830.65 386.39L830.15 386.80L829.65 387.18L829.15 387.56L828.65 387.92L828.15 388.26L827.65 388.59L827.15 388.91L826.64 389.21L826.14 389.50L825.64 389.77L825.14 390.03L824.64 390.28L824.14 390.51L823.64 390.73L823.14 390.94L822.64 391.14L822.14 391.32L821.64 391.49L821.14 391.65L820.64 391.79L820.13 391.93L819.63 392.05L819.13 392.16L818.63 392.26L818.13 392.35L817.63 392.43L817.13 392.50L816.63 392.55L816.13 392.60L815.63 392.64L815.13 392.67L814.63 392.69L814.13 392.70L813.62 392.70L813.12 392.70L812.62 392.69L812.12 392.67L811.62 392.65L811.12 392.63L810.62 392.60L810.12 392.56L809.62 392.52L809.12 392.48L808.62 392.43L808.12 392.37L807.62 392.32L807.12 392.26L806.61 392.19L806.11 392.12L805.61 392.05L805.11 391.97L804.61 391.89L804.11 391.80L803.61 391.71L803.11 391.62L802.61 391.53L802.11 391.43L801.61 391.33L801.11 391.22L800.61 391.11L800.10 391.00L799.60 390.89L799.10 390.78L798.60 390.66L798.10 390.54L797.60 390.42L797.10 390.29L796.60 390.17L796.10 390.04L795.60 389.91L795.10 389.78L794.60 389.65L794.10 389.51L793.59 389.38L793.09 389.24L792.59 389.11L792.09 388.97L791.59 388.83L791.09 388.69L790.59 388.55L790.09 388.41L789.59 388.27L789.09 388.13L788.59 387.99L788.09 387.85L787.59 387.71L787.09 387.57L786.58 387.43L786.08 387.29L785.58 387.15L785.08 387.01L784.58 386.87L784.08 386.73L783.58 386.60L783.08 386.46L782.58 386.33L782.08 386.20L781.58 386.07L781.08 385.94L780.58 385.81L780.07 385.68L779.57 385.56L779.07 385.43L778.57 385.31L778.07 385.19L777.57 385.08L777.07 384.96L776.57 384.85L776.07 384.74L775.57 384.63L775.07 384.52L774.57 384.42L774.07 384.32L773.56 384.22L773.06 384.13L772.56 384.03L772.06 383.95L771.56 383.86L771.06 383.77L770.56 383.69L770.06 383.62L769.56 383.54L769.06 383.47L768.56 383.40L768.06 383.34L767.56 383.27L767.05 383.21L766.55 383.16L766.05 383.11L765.55 383.06L765.05 383.01L764.55 382.97L764.05 382.93L763.55 382.90L763.05 382.87L762.55 382.84L762.05 382.81L761.55 382.79L761.05 382.78L760.55 382.76L760.04 382.75L759.54 382.74L759.04 382.74L758.54 382.74L758.04 382.75L757.54 382.75L757.04 382.76L756.54 382.78L756.04 382.80L755.54 382.82L755.04 382.84L754.54 382.87L754.04 382.90L753.53 382.93L753.03 382.97L752.53 383.01L752.03 383.06L751.53 383.11L751.03 383.16L750.53 383.21L750.03 383.27L749.53 383.33L749.03 383.39L748.53 383.46L748.03 383.53L747.53 383.60L747.02 383.67L746.52 383.75L746.02 383.83L745.52 383.91L745.02 384.00L744.52 384.09L744.02 384.18L743.52 384.27L743.02 384.36L742.52 384.46L742.02 384.56L741.52 384.66L741.02 384.76L740.51 384.87L740.01 384.98L739.51 385.09L739.01 385.20L738.51 385.31L738.01 385.42L737.51 385.54L737.01 385.66L736.51 385.77L736.01 385.89L735.51 386.01L735.01 386.14L734.51 386.26L734.01 386.38L733.50 386.51L733.00 386.63L732.50 386.76L732.00 386.88L731.50 387.01L731.00 387.14L730.50 387.26L730.00 387.39L729.50 387.52L729.00 387.65L728.50 387.78L728.00 387.90L727.50 388.03L726.99 388.16L726.49 388.29L725.99 388.41L725.49 388.54L724.99 388.66L724.49 388.79L723.99 388.91L723.49 389.04L722.99 389.16L722.49 389.28L721.99 389.40L721.49 389.52L720.99 389.64L720.48 389.75L719.98 389.87L719.48 389.98L718.98 390.09L718.48 390.20L717.98 390.31L717.48 390.42L716.98 390.53L716.48 390.63L715.98 390.73L715.48 390.83L714.98 390.93L714.48 391.02L713.97 391.12L713.47 391.21L712.97 391.30L712.47 391.38L711.97 391.47L711.47 391.55L710.97 391.63L710.47 391.70L709.97 391.78L709.47 391.85L708.97 391.92L708.47 391.98L707.97 392.05L707.47 392.11L706.96 392.16L706.46 392.22L705.96 392.27L705.46 392.32L704.96 392.37L704.46 392.41L703.96 392.45L703.46 392.49L702.96 392.52L702.46 392.55L701.96 392.58L701.46 392.61L700.96 392.63L700.45 392.65L699.95 392.66L699.45 392.68L698.95 392.69L698.45 392.69L697.95 392.70L697.45 392.70M929.80 158.44L930.30 158.45L930.80 158.50L931.30 158.57L931.80 158.67L932.30 158.80L932.80 158.96L933.30 159.14L933.81 159.36L934.31 159.60L934.81 159.87L935.31 160.17L935.81 160.50L936.31 160.86L936.81 161.24L937.31 161.65L937.81 162.09L938.31 162.56L938.81 163.05L939.31 163.58L939.81 164.13L940.31 164.70L940.81 165.31L941.31 165.94L941.82 166.59L942.32 167.28L942.82 167.99L943.32 168.72L943.82 169.48L944.32 170.27L944.82 171.08L945.32 171.91L945.82 172.78L946.32 173.66L946.82 174.57L947.32 175.51L947.82 176.46L948.32 177.45L948.82 178.45L949.33 179.48L949.83 180.53L950.33 181.60L950.83 182.69L951.33 183.81L951.83 184.95L952.33 186.10L952.83 187.28L953.33 188.48L953.83 189.70L954.33 190.94L954.83 192.20L955.33 193.48L955.83 194.77L956.33 196.09L956.83 197.42L957.34 198.77L957.84 200.14L958.34 201.52L958.84 202.92L959.34 204.34L959.84 205.77L960.34 207.22L960.84 208.68L961.34 210.15L961.84 211.64L962.34 213.15L962.84 214.66L963.34 216.19L963.84 217.74L964.34 219.29L964.85 220.86L965.35 222.43L965.85 224.02L966.35 225.62L966.85 227.23L967.35 228.84L967.85 230.47L968.35 232.10L968.85 233.75L969.35 235.40L969.85 237.05L970.35 238.72L970.85 240.39L971.35 242.06L971.85 243.75L972.35 245.43L972.86 247.13L973.36 248.82L973.86 250.52L974.36 252.23L974.86 253.93L975.36 255.64L975.86 257.35L976.36 259.07L976.86 260.78L977.36 262.50L977.86 264.21L978.36 265.93L978.86 267.64L979.36 269.36L979.86 271.07L980.37 272.78L980.87 274.49L981.37 276.20L981.87 277.90L982.37 279.61L982.87 281.30L983.37 283.00L983.87 284.69L984.37 286.37L984.87 288.05L985.37 289.73L985.87 291.39L986.37 293.06L986.87 294.71L987.37 296.36L987.88 298.00L988.38 299.64L988.88 301.26L989.38 302.88L989.88 304.49L990.38 306.09L990.88 307.68L991.38 309.26L991.88 310.84L992.38 312.40L992.88 313.95L993.38 315.49L993.88 317.02L994.38 318.54L994.88 320.04L995.38 321.54L995.89 323.02L996.39 324.49L996.89 325.95L997.39 327.39L997.89 328.82L998.39 330.24L998.89 331.65L999.39 333.04L999.89 334.41L1000.39 335.78L1000.89 337.12L1001.39 338.46L1001.89 339.78L1002.39 341.08L1002.89 342.37L1003.40 343.64L1003.90 344.90L1004.40 346.14L1004.90 347.37L1005.40 348.58L1005.90 349.77L1006.40 350.95L1006.90 352.11L1007.40 353.25L1007.90 354.38L1008.40 355.50L1008.90 356.59L1009.40 357.67L1009.90 358.73L1010.40 359.77L1010.90 360.80L1011.41 361.81L1011.91 362.81L1012.41 363.78L1012.91 364.74L1013.41 365.68L1013.91 366.61L1014.41 367.51L1014.91 368.40L1015.41 369.27L1015.91 370.13L1016.41 370.96L1016.91 371.78L1017.41 372.59L1017.91 373.37L1018.41 374.14L1018.92 374.89L1019.42 375.62L1019.92 376.34L1020.42 377.04L1020.92 377.72L1021.42 378.38L1021.92 379.03L1022.42 379.66L1022.92 380.28L1023.42 380.88L1023.92 381.46L1024.42 382.02L1024.92 382.57L1025.42 383.10L1025.92 383.61L1026.42 384.11L1026.93 384.60L1027.43 385.06L1027.93 385.52L1028.43 385.95L1028.93 386.37L1029.43 386.78L1029.93 387.17L1030.43 387.54L1030.93 387.90L1031.43 388.25L1031.93 388.58L1032.43 388.90L1032.93 389.20L1033.43 389.49L1033.93 389.76L1034.44 390.02L1034.94 390.27L1035.44 390.50L1035.94 390.72L1036.44 390.93L1036.94 391.13L1037.44 391.31L1037.94 391.48L1038.44 391.64L1038.94 391.79L1039.44 391.92L1039.94 392.04L1040.44 392.15L1040.94 392.26L1041.44 392.35L1041.94 392.42L1042.45 392.49L1042.95 392.55L1043.45 392.60L1043.95 392.64L1044.45 392.67L1044.95 392.69L1045.45 392.70L1045.95 392.70L1046.45 392.70L1046.95 392.69L1047.45 392.67L1047.95 392.65L1048.45 392.63L1048.95 392.60L1049.45 392.56L1049.96 392.52L1050.46 392.48L1050.96 392.43L1051.46 392.38L1051.96 392.32L1052.46 392.26L1052.96 392.19L1053.46 392.12L1053.96 392.05L1054.46 391.97L1054.96 391.89L1055.46 391.81L1055.96 391.72L1056.46 391.63L1056.96 391.53L1057.46 391.43L1057.97 391.33L1058.47 391.23L1058.97 391.12L1059.47 391.01L1059.97 390.90L1060.47 390.78L1060.97 390.67L1061.47 390.55L1061.97 390.42L1062.47 390.30L1062.97 390.18L1063.47 390.05L1063.97 389.92L1064.47 389.79L1064.97 389.66L1065.48 389.52L1065.98 389.39L1066.48 389.25L1066.98 389.11L1067.48 388.98L1067.98 388.84L1068.48 388.70L1068.98 388.56L1069.48 388.42L1069.98 388.28L1070.48 388.14L1070.98 388.00L1071.48 387.86L1071.98 387.71L1072.48 387.57L1072.98 387.43L1073.49 387.29L1073.99 387.16L1074.49 387.02L1074.99 386.88L1075.49 386.74L1075.99 386.61L1076.49 386.47L1076.99 386.34L1077.49 386.20L1077.99 386.07L1078.49 385.94L1078.99 385.82L1079.49 385.69L1079.99 385.56L1080.49 385.44L1081.00 385.32L1081.50 385.20L1082.00 385.08L1082.50 384.97L1083.00 384.86L1083.50 384.75L1084.00 384.64L1084.50 384.53L1085.00 384.43L1085.50 384.33L1086.00 384.23L1086.50 384.13L1087.00 384.04L1087.50 383.95L1088.00 383.86L1088.50 383.78L1089.01 383.70L1089.51 383.62L1090.01 383.55L1090.51 383.47L1091.01 383.41L1091.51 383.34L1092.01 383.28L1092.51 383.22L1093.01 383.16L1093.51 383.11L1094.01 383.06L1094.51 383.02L1095.01 382.97L1095.51 382.94L1096.01 382.90L1096.52 382.87L1097.02 382.84L1097.52 382.82L1098.02 382.79L1098.52 382.78L1099.02 382.76L1099.52 382.75L1100.02 382.74L1100.52 382.74L1101.02 382.74L1101.52 382.74L1102.02 382.75L1102.52 382.76L1103.02 382.78L1103.52 382.79L1104.02 382.81L1104.53 382.84L1105.03 382.87L1105.53 382.90L1106.03 382.93L1106.53 382.97L1107.03 383.01L1107.53 383.05L1108.03 383.10L1108.53 383.15L1109.03 383.21L1109.53 383.26L1110.03 383.32L1110.53 383.39L1111.03 383.45L1111.53 383.52L1112.04 383.59L1112.54 383.67L1113.04 383.74L1113.54 383.82L1114.04 383.91L1114.54 383.99L1115.04 384.08L1115.54 384.17L1116.04 384.26L1116.54 384.36L1117.04 384.45L1117.54 384.55L1118.04 384.65L1118.54 384.76L1119.04 384.86L1119.55 384.97L1120.05 385.08L1120.55 385.19L1121.05 385.30L1121.55 385.41L1122.05 385.53L1122.55 385.65L1123.05 385.76L1123.55 385.88L1124.05 386.00L1124.55 386.12L1125.05 386.25L1125.55 386.37L1126.05 386.50L1126.55 386.62L1127.05 386.75L1127.56 386.87L1128.06 387.00L1128.56 387.13L1129.06 387.25L1129.56 387.38L1130.06 387.51L1130.56 387.64L1131.06 387.77L1131.56 387.89L1132.06 388.02L1132.56 388.15L1133.06 388.28L1133.56 388.40L1134.06 388.53L1134.56 388.65L1135.07 388.78L1135.57 388.90L1136.07 389.03L1136.57 389.15L1137.07 389.27L1137.57 389.39L1138.07 389.51L1138.57 389.63L1139.07 389.74L1139.57 389.86L1140.07 389.97L1140.57 390.08L1141.07 390.19L1141.57 390.30L1142.07 390.41L1142.57 390.52L1143.08 390.62L1143.58 390.72L1144.08 390.82L1144.58 390.92L1145.08 391.01L1145.58 391.11L1146.08 391.20L1146.58 391.29L1147.08 391.37L1147.58 391.46L1148.08 391.54L1148.58 391.62L1149.08 391.70L1149.58 391.77L1150.08 391.84L1150.59 391.91L1151.09 391.98L1151.59 392.04L1152.09 392.10L1152.59 392.16L1153.09 392.21L1153.59 392.27L1154.09 392.31L1154.59 392.36L1155.09 392.40L1155.59 392.45L1156.09 392.48L1156.59 392.52L1157.09 392.55L1157.59 392.58L1158.09 392.60L1158.60 392.63L1159.10 392.65L1159.60 392.66L1160.10 392.68L1160.60 392.69L1161.10 392.69L1161.60 392.70L1162.10 392.70" stroke="#cf2440" stroke-width="3.3" fill="none" stroke-linecap="round" stroke-dasharray="9.811 7.457 1.275 7.457" stroke-dashoffset="17.90566037735849"/>
<path d="M697.45 392.70L745.80 392.70L752.80 382.95L759.60 382.95L766.60 392.70L829.80 392.61L830.05 392.59L830.30 392.56L830.55 392.53L830.80 392.49L831.05 392.46L831.30 392.42L831.55 392.38L831.80 392.35L832.05 392.31L832.30 392.27L832.55 392.23L832.80 392.19L833.05 392.15L833.30 392.11L833.55 392.08L833.80 392.04L834.05 392.01L834.30 391.98L834.55 391.96L834.80 391.94L835.05 391.92L835.30 391.91L835.55 391.90L835.80 391.90L836.05 391.90L836.30 391.91L836.55 391.92L836.80 391.93L837.05 391.95L837.30 391.97L837.55 392.00L837.80 392.03L838.05 392.07L838.30 392.11L838.55 392.15L838.80 392.19L839.05 392.24L839.30 392.29L839.55 392.33L839.80 392.38L840.05 392.43L840.30 392.47L840.55 392.51L840.80 392.55L841.05 392.59L841.30 392.62L841.55 392.65L841.80 392.67L842.05 392.69L842.30 392.70L842.55 392.70L842.80 392.69L843.05 392.68L843.30 392.66L843.55 392.63L843.80 392.59L844.05 392.54L844.30 392.49L844.55 392.42L844.80 392.35L845.05 392.27L845.30 392.18L845.55 392.08L845.80 391.97L846.05 391.87L846.30 391.75L846.55 391.63L846.80 391.51L847.05 391.38L847.30 391.26L847.55 391.13L847.80 391.01L848.05 390.88L848.30 390.76L848.55 390.65L848.80 390.54L849.05 390.44L849.30 390.35L849.55 390.27L849.80 390.19L850.05 390.13L850.30 390.09L850.55 390.06L850.80 390.04L851.05 390.04L851.30 390.05L851.55 390.08L851.80 390.13L852.05 390.19L852.30 390.27L852.55 390.36L852.80 390.47L853.05 390.59L853.30 390.73L853.55 390.87L853.80 391.03L854.05 391.19L854.30 391.36L854.55 391.53L854.80 391.70L855.05 391.87L855.30 392.03L855.55 392.18L855.80 392.32L856.05 392.45L856.30 392.55L856.55 392.63L856.80 392.68L857.05 392.70L857.30 392.68L857.55 392.62L857.80 392.51L858.05 392.35L858.30 392.14L858.55 391.87L858.80 391.53L859.05 391.13L859.30 390.65L859.55 390.10L859.80 389.46L860.05 388.75L860.30 387.94L860.55 387.05L860.80 386.07L861.05 385.00L861.30 383.83L861.55 382.56L861.80 381.20L862.05 379.73L862.30 378.18L862.55 376.52L862.80 374.77L863.05 372.93L863.30 371.00L863.55 368.98L863.80 366.87L864.05 364.68L864.30 362.42L864.55 360.09L864.80 357.69L865.05 355.23L865.30 352.72L865.55 350.17L865.80 347.57L866.05 344.95L866.30 342.31L866.55 339.65L866.80 336.99L867.05 334.34L867.30 331.70L867.55 329.09L867.80 326.51L868.05 323.98L868.30 321.50L868.55 319.09L868.80 316.75L869.05 314.50L869.30 312.34L869.55 310.28L869.80 308.34L870.05 306.52L870.30 304.83L870.55 303.28L870.80 301.87L871.05 300.61L871.30 299.51L871.55 298.58L871.80 297.81L872.05 297.22L872.30 296.80L872.55 296.57L872.80 296.51L873.05 296.64L873.30 296.95L873.55 297.45L873.80 298.12L874.05 298.98L874.30 300.01L874.55 301.21L874.80 302.58L875.05 304.12L875.30 305.81L875.55 307.66L875.80 309.64L876.05 311.76L876.30 314.01L876.55 316.38L876.80 318.85L877.05 321.41L877.30 324.07L877.55 326.80L877.80 329.59L878.05 332.44L878.30 335.32L878.55 338.23L878.80 341.17L879.05 344.10L879.30 347.03L879.55 349.94L879.80 352.82L880.05 355.66L880.30 358.45L880.55 361.18L880.80 363.83L881.05 366.41L881.30 368.89L881.55 371.28L881.80 373.56L882.05 375.73L882.30 377.78L882.55 379.70L882.80 381.50L883.05 383.17L883.30 384.70L883.55 386.10L883.80 387.36L884.05 388.48L884.30 389.46L884.55 390.31L884.80 391.02L885.05 391.60L885.30 392.06L885.55 392.38L885.80 392.59L886.05 392.69L886.30 392.68L886.55 392.57L886.80 392.37L887.05 392.08L887.30 391.71L887.55 391.27L887.80 390.77L888.05 390.22L888.30 389.63L888.55 389.00L888.80 388.34L889.05 387.67L889.30 386.98L889.55 386.30L889.80 385.63L890.05 384.96L890.30 384.33L890.55 383.72L890.80 383.14L891.05 382.61L891.30 382.13L891.55 381.69L891.80 381.32L892.05 381.00L892.30 380.75L892.55 380.56L892.80 380.44L893.05 380.38L893.30 380.39L893.55 380.47L893.80 380.62L894.05 380.83L894.30 381.09L894.55 381.42L894.80 381.80L895.05 382.23L895.30 382.71L895.55 383.23L895.80 383.78L896.05 384.36L896.30 384.97L896.55 385.59L896.80 386.22L897.05 386.85L897.30 387.49L897.55 388.11L897.80 388.71L898.05 389.30L898.30 389.85L898.55 390.37L898.80 390.85L899.05 391.28L899.30 391.67L899.55 391.99L899.80 392.26L900.05 392.47L900.30 392.61L900.55 392.69L900.80 392.69L901.05 392.63L901.30 392.50L901.55 392.30L901.80 392.03L902.05 391.70L902.30 391.30L902.55 390.84L902.80 390.33L903.05 389.76L903.30 389.15L903.55 388.49L903.80 387.80L904.05 387.08L904.30 386.34L904.55 385.58L904.80 384.81L905.05 384.04L905.30 383.28L905.55 382.53L905.80 381.80L906.05 381.10L906.30 380.44L906.55 379.83L906.80 379.26L907.05 378.75L907.30 378.30L907.55 377.93L907.80 377.62L908.05 377.39L908.30 377.25L908.55 377.18L908.80 377.20L909.05 377.31L909.30 377.51L909.55 377.79L909.80 378.15L910.05 378.60L910.30 379.13L910.55 379.72L910.80 380.39L911.05 381.12L911.30 381.90L911.55 382.73L911.80 383.59L912.05 384.48L912.30 385.39L912.55 386.29L912.80 387.19L913.05 388.07L913.30 388.92L913.55 389.71L913.80 390.44L914.05 391.10L914.30 391.66L914.55 392.12L914.80 392.45L915.05 392.65L915.30 392.70L915.55 392.58L915.80 392.28L916.05 391.80L916.30 391.10L916.55 390.20L916.80 389.06L917.05 387.69L917.30 386.08L917.55 384.21L917.80 382.07L918.05 379.68L918.30 377.01L918.55 374.07L918.80 370.86L919.05 367.37L919.30 363.60L919.55 359.57L919.80 355.27L920.05 350.72L920.30 345.91L920.55 340.86L920.80 335.58L921.05 330.08L921.30 324.38L921.55 318.49L921.80 312.42L922.05 306.19L922.30 299.83L922.55 293.36L922.80 286.79L923.05 280.14L923.30 273.44L923.55 266.72L923.80 259.99L924.05 253.29L924.30 246.63L924.55 240.04L924.80 233.55L925.05 227.18L925.30 220.96L925.55 214.92L925.80 209.07L926.05 203.43L926.30 198.05L926.55 192.92L926.80 188.09L927.05 183.56L927.30 179.36L927.55 175.50L927.80 172.00L928.05 168.88L928.30 166.15L928.55 163.81L928.80 161.89L929.05 160.39L929.30 159.31L929.55 158.66L929.80 158.44L930.05 158.66L930.30 159.31L930.55 160.39L930.80 161.89L931.05 163.81L931.30 166.15L931.55 168.88L931.80 172.00L932.05 175.50L932.30 179.36L932.55 183.56L932.80 188.09L933.05 192.92L933.30 198.05L933.55 203.43L933.80 209.07L934.05 214.92L934.30 220.96L934.55 227.18L934.80 233.55L935.05 240.04L935.30 246.63L935.55 253.29L935.80 259.99L936.05 266.72L936.30 273.44L936.55 280.14L936.80 286.79L937.05 293.36L937.30 299.83L937.55 306.19L937.80 312.42L938.05 318.49L938.30 324.38L938.55 330.08L938.80 335.58L939.05 340.86L939.30 345.91L939.55 350.72L939.80 355.27L940.05 359.57L940.30 363.60L940.55 367.37L940.80 370.86L941.05 374.07L941.30 377.01L941.55 379.68L941.80 382.07L942.05 384.21L942.30 386.08L942.55 387.69L942.80 389.06L943.05 390.20L943.30 391.10L943.55 391.80L943.80 392.28L944.05 392.58L944.30 392.70L944.55 392.65L944.80 392.45L945.05 392.12L945.30 391.66L945.55 391.10L945.80 390.44L946.05 389.71L946.30 388.92L946.55 388.07L946.80 387.19L947.05 386.29L947.30 385.39L947.55 384.48L947.80 383.59L948.05 382.73L948.30 381.90L948.55 381.12L948.80 380.39L949.05 379.72L949.30 379.13L949.55 378.60L949.80 378.15L950.05 377.79L950.30 377.51L950.55 377.31L950.80 377.20L951.05 377.18L951.30 377.25L951.55 377.39L951.80 377.62L952.05 377.93L952.30 378.30L952.55 378.75L952.80 379.26L953.05 379.83L953.30 380.44L953.55 381.10L953.80 381.80L954.05 382.53L954.30 383.28L954.55 384.04L954.80 384.81L955.05 385.58L955.30 386.34L955.55 387.08L955.80 387.80L956.05 388.49L956.30 389.15L956.55 389.76L956.80 390.33L957.05 390.84L957.30 391.30L957.55 391.70L957.80 392.03L958.05 392.30L958.30 392.50L958.55 392.63L958.80 392.69L959.05 392.69L959.30 392.61L959.55 392.47L959.80 392.26L960.05 391.99L960.30 391.67L960.55 391.28L960.80 390.85L961.05 390.37L961.30 389.85L961.55 389.30L961.80 388.71L962.05 388.11L962.30 387.49L962.55 386.85L962.80 386.22L963.05 385.59L963.30 384.97L963.55 384.36L963.80 383.78L964.05 383.23L964.30 382.71L964.55 382.23L964.80 381.80L965.05 381.42L965.30 381.09L965.55 380.83L965.80 380.62L966.05 380.47L966.30 380.39L966.55 380.38L966.80 380.44L967.05 380.56L967.30 380.75L967.55 381.00L967.80 381.32L968.05 381.69L968.30 382.13L968.55 382.61L968.80 383.14L969.05 383.72L969.30 384.33L969.55 384.96L969.80 385.63L970.05 386.30L970.30 386.98L970.55 387.67L970.80 388.34L971.05 389.00L971.30 389.63L971.55 390.22L971.80 390.77L972.05 391.27L972.30 391.71L972.55 392.08L972.80 392.37L973.05 392.57L973.30 392.68L973.55 392.69L973.80 392.59L974.05 392.38L974.30 392.06L974.55 391.60L974.80 391.02L975.05 390.31L975.30 389.46L975.55 388.48L975.80 387.36L976.05 386.10L976.30 384.70L976.55 383.17L976.80 381.50L977.05 379.70L977.30 377.78L977.55 375.73L977.80 373.56L978.05 371.28L978.30 368.89L978.55 366.41L978.80 363.83L979.05 361.18L979.30 358.45L979.55 355.66L979.80 352.82L980.05 349.94L980.30 347.03L980.55 344.10L980.80 341.17L981.05 338.23L981.30 335.32L981.55 332.44L981.80 329.59L982.05 326.80L982.30 324.07L982.55 321.41L982.80 318.85L983.05 316.38L983.30 314.01L983.55 311.76L983.80 309.64L984.05 307.66L984.30 305.81L984.55 304.12L984.80 302.58L985.05 301.21L985.30 300.01L985.55 298.98L985.80 298.12L986.05 297.45L986.30 296.95L986.55 296.64L986.80 296.51L987.05 296.57L987.30 296.80L987.55 297.22L987.80 297.81L988.05 298.58L988.30 299.51L988.55 300.61L988.80 301.87L989.05 303.28L989.30 304.83L989.55 306.52L989.80 308.34L990.05 310.28L990.30 312.34L990.55 314.50L990.80 316.75L991.05 319.09L991.30 321.50L991.55 323.98L991.80 326.51L992.05 329.09L992.30 331.70L992.55 334.34L992.80 336.99L993.05 339.65L993.30 342.31L993.55 344.95L993.80 347.57L994.05 350.17L994.30 352.72L994.55 355.23L994.80 357.69L995.05 360.09L995.30 362.42L995.55 364.68L995.80 366.87L996.05 368.98L996.30 371.00L996.55 372.93L996.80 374.77L997.05 376.52L997.30 378.18L997.55 379.73L997.80 381.20L998.05 382.56L998.30 383.83L998.55 385.00L998.80 386.07L999.05 387.05L999.30 387.94L999.55 388.75L999.80 389.46L1000.05 390.10L1000.30 390.65L1000.55 391.13L1000.80 391.53L1001.05 391.87L1001.30 392.14L1001.55 392.35L1001.80 392.51L1002.05 392.62L1002.30 392.68L1002.55 392.70L1002.80 392.68L1003.05 392.63L1003.30 392.55L1003.55 392.45L1003.80 392.32L1004.05 392.18L1004.30 392.03L1004.55 391.87L1004.80 391.70L1005.05 391.53L1005.30 391.36L1005.55 391.19L1005.80 391.03L1006.05 390.87L1006.30 390.73L1006.55 390.59L1006.80 390.47L1007.05 390.36L1007.30 390.27L1007.55 390.19L1007.80 390.13L1008.05 390.08L1008.30 390.05L1008.55 390.04L1008.80 390.04L1009.05 390.06L1009.30 390.09L1009.55 390.13L1009.80 390.19L1010.05 390.27L1010.30 390.35L1010.55 390.44L1010.80 390.54L1011.05 390.65L1011.30 390.76L1011.55 390.88L1011.80 391.01L1012.05 391.13L1012.30 391.26L1012.55 391.38L1012.80 391.51L1013.05 391.63L1013.30 391.75L1013.55 391.87L1013.80 391.97L1014.05 392.08L1014.30 392.18L1014.55 392.27L1014.80 392.35L1015.05 392.42L1015.30 392.49L1015.55 392.54L1015.80 392.59L1016.05 392.63L1016.30 392.66L1016.55 392.68L1016.80 392.69L1017.05 392.70L1017.30 392.70L1017.55 392.69L1017.80 392.67L1018.05 392.65L1018.30 392.62L1018.55 392.59L1018.80 392.55L1019.05 392.51L1019.30 392.47L1019.55 392.43L1019.80 392.38L1020.05 392.33L1020.30 392.29L1020.55 392.24L1020.80 392.19L1021.05 392.15L1021.30 392.11L1021.55 392.07L1021.80 392.03L1022.05 392.00L1022.30 391.97L1022.55 391.95L1022.80 391.93L1023.05 391.92L1023.30 391.91L1023.55 391.90L1023.80 391.90L1024.05 391.90L1024.30 391.91L1024.55 391.92L1024.80 391.94L1025.05 391.96L1025.30 391.98L1025.55 392.01L1025.80 392.04L1026.05 392.08L1026.30 392.11L1026.55 392.15L1026.80 392.19L1027.05 392.23L1027.30 392.27L1027.55 392.31L1027.80 392.35L1028.05 392.38L1028.30 392.42L1028.55 392.46L1028.80 392.49L1029.05 392.53L1029.30 392.56L1029.55 392.59L1029.80 392.61L1093.60 392.70L1100.60 382.95L1107.40 382.95L1114.40 392.70L1162.10 392.70" stroke="#4a5199" stroke-width="2.9" fill="none" stroke-linejoin="round"/>
<path d="M987.4 385V399.7M1046.0 385V399.7" stroke="#000" stroke-width="3.5"/>
<text transform="matrix(0.9046 0 0 1 963.83 425.40)" font-size="27.81" font-style="italic">λ</text><text transform="matrix(1.1526 0 0 1 979.69 426.62)" font-size="28.30" font-style="italic">/</text><text transform="matrix(1.0068 0 0 1 988.62 425.18)" font-size="27.70" font-style="italic">d</text>
<text transform="matrix(0.9046 0 0 1 1029.83 425.40)" font-size="27.81" font-style="italic">λ</text><text transform="matrix(1.1611 0 0 1 1045.71 426.62)" font-size="28.30" font-style="italic">/</text><text transform="matrix(0.9631 0 0 1 1055.20 425.32)" font-size="27.89" font-style="italic">b</text>
<text transform="matrix(0.7856 0 0 1 1176.14 402.00)" font-size="27.80">s</text><text transform="matrix(1.2390 0 0 1 1187.46 402.00)" font-size="27.80">i</text><text transform="matrix(1.0495 0 0 1 1194.20 402.00)" font-size="27.80">n</text><text transform="matrix(0.9961 0 0 1 1216.83 402.00)" font-size="27.80" font-style="italic">φ</text>
<text transform="matrix(0.8212 0 0 1 681.72 44.80)" font-size="28.8">C</text>
<path d="M697.45 567.60V864.60M763.83 567.60V864.60M830.21 567.60V864.60M896.59 567.60V864.60M962.96 567.60V864.60M1029.34 567.60V864.60M1095.72 567.60V864.60M1162.10 567.60V864.60M696.95 567.60H1162.60M696.95 627.00H1162.60M696.95 686.40H1162.60M696.95 745.80H1162.60M696.95 805.20H1162.60M696.95 864.60H1162.60" stroke="#242424" stroke-width="1.0" fill="none"/>
<path d="M929.70 567.6V875.5" stroke="#444" stroke-width="1.1"/>
<path d="M929.70 567.60L929.20 567.62L928.70 567.67L928.20 567.76L927.70 567.89L927.20 568.05L926.70 568.25L926.20 568.49L925.70 568.76L925.20 569.07L924.69 569.41L924.19 569.79L923.69 570.21L923.19 570.66L922.69 571.15L922.19 571.67L921.69 572.23L921.19 572.82L920.69 573.45L920.19 574.11L919.69 574.81L919.19 575.54L918.69 576.30L918.19 577.10L917.69 577.93L917.19 578.80L916.69 579.70L916.19 580.63L915.68 581.59L915.18 582.59L914.68 583.62L914.18 584.68L913.68 585.77L913.18 586.89L912.68 588.04L912.18 589.23L911.68 590.44L911.18 591.69L910.68 592.96L910.18 594.26L909.68 595.59L909.18 596.95L908.68 598.34L908.18 599.75L907.68 601.19L907.18 602.66L906.68 604.15L906.17 605.67L905.67 607.22L905.17 608.79L904.67 610.39L904.17 612.00L903.67 613.65L903.17 615.31L902.67 617.00L902.17 618.71L901.67 620.44L901.17 622.20L900.67 623.97L900.17 625.77L899.67 627.58L899.17 629.42L898.67 631.27L898.17 633.14L897.67 635.03L897.16 636.93L896.66 638.86L896.16 640.79L895.66 642.75L895.16 644.72L894.66 646.70L894.16 648.70L893.66 650.71L893.16 652.74L892.66 654.78L892.16 656.82L891.66 658.89L891.16 660.96L890.66 663.04L890.16 665.13L889.66 667.23L889.16 669.34L888.66 671.46L888.16 673.58L887.65 675.72L887.15 677.85L886.65 680.00L886.15 682.15L885.65 684.30L885.15 686.46L884.65 688.63L884.15 690.79L883.65 692.96L883.15 695.13L882.65 697.31L882.15 699.48L881.65 701.66L881.15 703.83L880.65 706.00L880.15 708.18L879.65 710.35L879.15 712.52L878.65 714.69L878.14 716.85L877.64 719.01L877.14 721.17L876.64 723.32L876.14 725.47L875.64 727.61L875.14 729.75L874.64 731.87L874.14 734.00L873.64 736.11L873.14 738.22L872.64 740.32L872.14 742.41L871.64 744.49L871.14 746.56L870.64 748.62L870.14 750.67L869.64 752.71L869.13 754.74L868.63 756.76L868.13 758.76L867.63 760.76L867.13 762.74L866.63 764.70L866.13 766.66L865.63 768.60L865.13 770.52L864.63 772.43L864.13 774.32L863.63 776.20L863.13 778.07L862.63 779.92L862.13 781.75L861.63 783.56L861.13 785.36L860.63 787.14L860.13 788.90L859.62 790.65L859.12 792.38L858.62 794.09L858.12 795.78L857.62 797.45L857.12 799.10L856.62 800.74L856.12 802.35L855.62 803.94L855.12 805.52L854.62 807.07L854.12 808.61L853.62 810.12L853.12 811.62L852.62 813.09L852.12 814.54L851.62 815.97L851.12 817.38L850.61 818.77L850.11 820.14L849.61 821.49L849.11 822.81L848.61 824.11L848.11 825.40L847.61 826.66L847.11 827.89L846.61 829.11L846.11 830.30L845.61 831.47L845.11 832.62L844.61 833.75L844.11 834.86L843.61 835.94L843.11 837.00L842.61 838.04L842.11 839.06L841.61 840.06L841.10 841.03L840.60 841.98L840.10 842.91L839.60 843.82L839.10 844.71L838.60 845.57L838.10 846.42L837.60 847.24L837.10 848.04L836.60 848.82L836.10 849.58L835.60 850.32L835.10 851.03L834.60 851.73L834.10 852.40L833.60 853.06L833.10 853.69L832.60 854.30L832.09 854.90L831.59 855.47L831.09 856.02L830.59 856.56L830.09 857.07L829.59 857.57L829.09 858.04L828.59 858.50L828.09 858.94L827.59 859.36L827.09 859.76L826.59 860.14L826.09 860.51L825.59 860.86L825.09 861.19L824.59 861.51L824.09 861.80L823.59 862.08L823.09 862.35L822.58 862.60L822.08 862.83L821.58 863.04L821.08 863.25L820.58 863.43L820.08 863.60L819.58 863.76L819.08 863.90L818.58 864.03L818.08 864.14L817.58 864.25L817.08 864.33L816.58 864.41L816.08 864.47L815.58 864.52L815.08 864.56L814.58 864.58L814.08 864.60L813.58 864.60L813.07 864.59L812.57 864.58L812.07 864.57L811.57 864.54L811.07 864.51L810.57 864.47L810.07 864.43L809.57 864.38L809.07 864.33L808.57 864.27L808.07 864.21L807.57 864.13L807.07 864.06L806.57 863.98L806.07 863.89L805.57 863.80L805.07 863.71L804.57 863.61L804.06 863.50L803.56 863.39L803.06 863.28L802.56 863.16L802.06 863.04L801.56 862.92L801.06 862.79L800.56 862.65L800.06 862.52L799.56 862.38L799.06 862.24L798.56 862.09L798.06 861.95L797.56 861.80L797.06 861.64L796.56 861.49L796.06 861.33L795.56 861.17L795.06 861.01L794.55 860.84L794.05 860.68L793.55 860.51L793.05 860.35L792.55 860.18L792.05 860.01L791.55 859.83L791.05 859.66L790.55 859.49L790.05 859.32L789.55 859.14L789.05 858.97L788.55 858.79L788.05 858.62L787.55 858.44L787.05 858.27L786.55 858.10L786.05 857.92L785.54 857.75L785.04 857.58L784.54 857.41L784.04 857.24L783.54 857.07L783.04 856.91L782.54 856.74L782.04 856.58L781.54 856.41L781.04 856.25L780.54 856.09L780.04 855.94L779.54 855.78L779.04 855.63L778.54 855.48L778.04 855.33L777.54 855.19L777.04 855.04L776.54 854.90L776.03 854.77L775.53 854.63L775.03 854.50L774.53 854.37L774.03 854.25L773.53 854.13L773.03 854.01L772.53 853.89L772.03 853.78L771.53 853.67L771.03 853.57L770.53 853.47L770.03 853.37L769.53 853.28L769.03 853.19L768.53 853.10L768.03 853.02L767.53 852.94L767.02 852.87L766.52 852.80L766.02 852.73L765.52 852.67L765.02 852.62L764.52 852.56L764.02 852.52L763.52 852.47L763.02 852.43L762.52 852.40L762.02 852.36L761.52 852.34L761.02 852.31L760.52 852.30L760.02 852.28L759.52 852.27L759.02 852.27L758.52 852.27L758.02 852.27L757.51 852.28L757.01 852.29L756.51 852.31L756.01 852.33L755.51 852.35L755.01 852.38L754.51 852.42L754.01 852.45L753.51 852.50L753.01 852.54L752.51 852.59L752.01 852.65L751.51 852.70L751.01 852.77L750.51 852.83L750.01 852.90L749.51 852.97L749.01 853.05L748.50 853.13L748.00 853.22L747.50 853.30L747.00 853.40L746.50 853.49L746.00 853.59L745.50 853.69L745.00 853.80L744.50 853.90L744.00 854.01L743.50 854.13L743.00 854.24L742.50 854.36L742.00 854.49L741.50 854.61L741.00 854.74L740.50 854.87L740.00 855.00L739.50 855.13L738.99 855.27L738.49 855.41L737.99 855.55L737.49 855.69L736.99 855.83L736.49 855.98L735.99 856.13L735.49 856.27L734.99 856.42L734.49 856.58L733.99 856.73L733.49 856.88L732.99 857.04L732.49 857.19L731.99 857.35L731.49 857.50L730.99 857.66L730.49 857.82L729.99 857.98L729.48 858.14L728.98 858.29L728.48 858.45L727.98 858.61L727.48 858.77L726.98 858.93L726.48 859.08L725.98 859.24L725.48 859.40L724.98 859.55L724.48 859.71L723.98 859.86L723.48 860.01L722.98 860.16L722.48 860.31L721.98 860.46L721.48 860.61L720.98 860.76L720.47 860.90L719.97 861.04L719.47 861.19L718.97 861.33L718.47 861.46L717.97 861.60L717.47 861.73L716.97 861.86L716.47 861.99L715.97 862.12L715.47 862.24L714.97 862.36L714.47 862.48L713.97 862.60L713.47 862.71L712.97 862.82L712.47 862.93L711.97 863.03L711.47 863.14L710.96 863.23L710.46 863.33L709.96 863.42L709.46 863.51L708.96 863.60L708.46 863.68L707.96 863.76L707.46 863.84L706.96 863.91L706.46 863.98L705.96 864.04L705.46 864.11L704.96 864.16L704.46 864.22L703.96 864.27L703.46 864.32L702.96 864.36L702.46 864.40L701.95 864.44L701.45 864.47L700.95 864.50L700.45 864.53L699.95 864.55L699.45 864.57L698.95 864.58L698.45 864.59L697.95 864.60L697.45 864.60M929.70 567.60L930.20 567.62L930.70 567.67L931.20 567.76L931.70 567.89L932.20 568.06L932.71 568.26L933.21 568.49L933.71 568.76L934.21 569.07L934.71 569.42L935.21 569.80L935.71 570.21L936.21 570.67L936.71 571.15L937.21 571.68L937.71 572.23L938.21 572.83L938.72 573.46L939.22 574.12L939.72 574.82L940.22 575.55L940.72 576.31L941.22 577.11L941.72 577.95L942.22 578.81L942.72 579.71L943.22 580.64L943.72 581.61L944.23 582.61L944.73 583.64L945.23 584.70L945.73 585.79L946.23 586.91L946.73 588.07L947.23 589.25L947.73 590.47L948.23 591.72L948.73 592.99L949.23 594.29L949.73 595.63L950.24 596.99L950.74 598.37L951.24 599.79L951.74 601.23L952.24 602.70L952.74 604.20L953.24 605.72L953.74 607.27L954.24 608.84L954.74 610.44L955.24 612.06L955.74 613.70L956.25 615.37L956.75 617.06L957.25 618.77L957.75 620.51L958.25 622.26L958.75 624.04L959.25 625.84L959.75 627.65L960.25 629.49L960.75 631.34L961.25 633.22L961.76 635.11L962.26 637.01L962.76 638.94L963.26 640.88L963.76 642.84L964.26 644.81L964.76 646.79L965.26 648.79L965.76 650.81L966.26 652.83L966.76 654.87L967.26 656.92L967.77 658.99L968.27 661.06L968.77 663.14L969.27 665.24L969.77 667.34L970.27 669.45L970.77 671.57L971.27 673.70L971.77 675.83L972.27 677.97L972.77 680.12L973.27 682.27L973.78 684.43L974.28 686.59L974.78 688.75L975.28 690.92L975.78 693.09L976.28 695.26L976.78 697.44L977.28 699.61L977.78 701.79L978.28 703.97L978.78 706.14L979.29 708.32L979.79 710.49L980.29 712.66L980.79 714.83L981.29 716.99L981.79 719.16L982.29 721.31L982.79 723.47L983.29 725.62L983.79 727.76L984.29 729.90L984.79 732.03L985.30 734.15L985.80 736.26L986.30 738.37L986.80 740.47L987.30 742.56L987.80 744.65L988.30 746.72L988.80 748.78L989.30 750.83L989.80 752.87L990.30 754.90L990.81 756.92L991.31 758.92L991.81 760.92L992.31 762.90L992.81 764.86L993.31 766.82L993.81 768.76L994.31 770.68L994.81 772.59L995.31 774.48L995.81 776.36L996.31 778.23L996.82 780.08L997.32 781.91L997.82 783.72L998.32 785.52L998.82 787.30L999.32 789.06L999.82 790.81L1000.32 792.53L1000.82 794.24L1001.32 795.93L1001.82 797.60L1002.33 799.26L1002.83 800.89L1003.33 802.50L1003.83 804.10L1004.33 805.67L1004.83 807.22L1005.33 808.76L1005.83 810.27L1006.33 811.76L1006.83 813.24L1007.33 814.69L1007.83 816.12L1008.34 817.53L1008.84 818.91L1009.34 820.28L1009.84 821.62L1010.34 822.95L1010.84 824.25L1011.34 825.53L1011.84 826.79L1012.34 828.02L1012.84 829.24L1013.34 830.43L1013.84 831.60L1014.35 832.75L1014.85 833.88L1015.35 834.98L1015.85 836.06L1016.35 837.12L1016.85 838.16L1017.35 839.18L1017.85 840.17L1018.35 841.14L1018.85 842.09L1019.35 843.02L1019.86 843.93L1020.36 844.81L1020.86 845.67L1021.36 846.52L1021.86 847.34L1022.36 848.13L1022.86 848.91L1023.36 849.67L1023.86 850.40L1024.36 851.12L1024.86 851.81L1025.36 852.48L1025.87 853.13L1026.37 853.77L1026.87 854.38L1027.37 854.97L1027.87 855.54L1028.37 856.09L1028.87 856.62L1029.37 857.14L1029.87 857.63L1030.37 858.10L1030.87 858.56L1031.38 858.99L1031.88 859.41L1032.38 859.81L1032.88 860.19L1033.38 860.56L1033.88 860.91L1034.38 861.23L1034.88 861.55L1035.38 861.84L1035.88 862.12L1036.38 862.38L1036.88 862.63L1037.39 862.86L1037.89 863.07L1038.39 863.27L1038.89 863.46L1039.39 863.63L1039.89 863.78L1040.39 863.92L1040.89 864.05L1041.39 864.16L1041.89 864.26L1042.39 864.35L1042.89 864.42L1043.40 864.48L1043.90 864.53L1044.40 864.56L1044.90 864.59L1045.40 864.60L1045.90 864.60L1046.40 864.59L1046.90 864.58L1047.40 864.56L1047.90 864.54L1048.40 864.51L1048.91 864.47L1049.41 864.43L1049.91 864.38L1050.41 864.32L1050.91 864.26L1051.41 864.19L1051.91 864.12L1052.41 864.05L1052.91 863.96L1053.41 863.88L1053.91 863.79L1054.41 863.69L1054.92 863.59L1055.42 863.48L1055.92 863.37L1056.42 863.26L1056.92 863.14L1057.42 863.02L1057.92 862.89L1058.42 862.77L1058.92 862.63L1059.42 862.50L1059.92 862.36L1060.42 862.21L1060.93 862.07L1061.43 861.92L1061.93 861.77L1062.43 861.62L1062.93 861.46L1063.43 861.30L1063.93 861.14L1064.43 860.98L1064.93 860.82L1065.43 860.65L1065.93 860.48L1066.44 860.32L1066.94 860.15L1067.44 859.98L1067.94 859.80L1068.44 859.63L1068.94 859.46L1069.44 859.28L1069.94 859.11L1070.44 858.94L1070.94 858.76L1071.44 858.59L1071.94 858.41L1072.45 858.24L1072.95 858.07L1073.45 857.89L1073.95 857.72L1074.45 857.55L1074.95 857.38L1075.45 857.21L1075.95 857.04L1076.45 856.87L1076.95 856.71L1077.45 856.54L1077.96 856.38L1078.46 856.22L1078.96 856.06L1079.46 855.91L1079.96 855.75L1080.46 855.60L1080.96 855.45L1081.46 855.30L1081.96 855.16L1082.46 855.02L1082.96 854.88L1083.46 854.74L1083.97 854.61L1084.47 854.48L1084.97 854.35L1085.47 854.22L1085.97 854.10L1086.47 853.98L1086.97 853.87L1087.47 853.76L1087.97 853.65L1088.47 853.55L1088.97 853.45L1089.47 853.35L1089.98 853.26L1090.48 853.17L1090.98 853.09L1091.48 853.00L1091.98 852.93L1092.48 852.85L1092.98 852.79L1093.48 852.72L1093.98 852.66L1094.48 852.61L1094.98 852.55L1095.49 852.51L1095.99 852.46L1096.49 852.42L1096.99 852.39L1097.49 852.36L1097.99 852.33L1098.49 852.31L1098.99 852.29L1099.49 852.28L1099.99 852.27L1100.49 852.27L1100.99 852.27L1101.50 852.27L1102.00 852.28L1102.50 852.29L1103.00 852.31L1103.50 852.33L1104.00 852.36L1104.50 852.39L1105.00 852.42L1105.50 852.46L1106.00 852.51L1106.50 852.55L1107.01 852.60L1107.51 852.66L1108.01 852.72L1108.51 852.78L1109.01 852.85L1109.51 852.92L1110.01 852.99L1110.51 853.07L1111.01 853.15L1111.51 853.24L1112.01 853.33L1112.51 853.42L1113.02 853.51L1113.52 853.61L1114.02 853.72L1114.52 853.82L1115.02 853.93L1115.52 854.04L1116.02 854.15L1116.52 854.27L1117.02 854.39L1117.52 854.51L1118.02 854.64L1118.52 854.77L1119.03 854.90L1119.53 855.03L1120.03 855.17L1120.53 855.30L1121.03 855.44L1121.53 855.58L1122.03 855.72L1122.53 855.87L1123.03 856.02L1123.53 856.16L1124.03 856.31L1124.54 856.46L1125.04 856.61L1125.54 856.77L1126.04 856.92L1126.54 857.08L1127.04 857.23L1127.54 857.39L1128.04 857.54L1128.54 857.70L1129.04 857.86L1129.54 858.02L1130.04 858.18L1130.55 858.33L1131.05 858.49L1131.55 858.65L1132.05 858.81L1132.55 858.97L1133.05 859.12L1133.55 859.28L1134.05 859.44L1134.55 859.59L1135.05 859.75L1135.55 859.90L1136.06 860.05L1136.56 860.20L1137.06 860.35L1137.56 860.50L1138.06 860.65L1138.56 860.80L1139.06 860.94L1139.56 861.08L1140.06 861.22L1140.56 861.36L1141.06 861.50L1141.56 861.63L1142.07 861.77L1142.57 861.90L1143.07 862.03L1143.57 862.15L1144.07 862.27L1144.57 862.40L1145.07 862.51L1145.57 862.63L1146.07 862.74L1146.57 862.85L1147.07 862.96L1147.57 863.06L1148.08 863.16L1148.58 863.26L1149.08 863.36L1149.58 863.45L1150.08 863.54L1150.58 863.62L1151.08 863.70L1151.58 863.78L1152.08 863.86L1152.58 863.93L1153.08 864.00L1153.59 864.06L1154.09 864.12L1154.59 864.18L1155.09 864.23L1155.59 864.28L1156.09 864.33L1156.59 864.37L1157.09 864.41L1157.59 864.45L1158.09 864.48L1158.59 864.51L1159.09 864.53L1159.60 864.55L1160.10 864.57L1160.60 864.58L1161.10 864.59L1161.60 864.60L1162.10 864.60" stroke="#cf2440" stroke-width="3.3" fill="none" stroke-linecap="round" stroke-dasharray="9.958 7.568 1.295 7.568" stroke-dashoffset="18.17424528301887"/>
<path d="M697.45 864.60L748.30 864.60L754.60 851.89L760.90 864.60L854.70 864.59L854.80 864.58L854.90 864.56L855.00 864.54L855.10 864.51L855.20 864.48L855.30 864.44L855.40 864.40L855.50 864.35L855.60 864.30L855.70 864.24L855.80 864.18L855.90 864.12L856.00 864.06L856.10 863.99L856.20 863.92L856.30 863.86L856.40 863.79L856.50 863.72L856.60 863.66L856.70 863.59L856.80 863.54L856.90 863.48L857.00 863.43L857.10 863.38L857.20 863.34L857.30 863.31L857.40 863.28L857.50 863.26L857.60 863.25L857.70 863.24L857.80 863.24L857.90 863.25L858.00 863.27L858.10 863.29L858.20 863.33L858.30 863.37L858.40 863.42L858.50 863.47L858.60 863.53L858.70 863.60L858.80 863.67L858.90 863.74L859.00 863.82L859.10 863.90L859.20 863.98L859.30 864.06L859.40 864.14L859.50 864.21L859.60 864.28L859.70 864.35L859.80 864.41L859.90 864.47L860.00 864.52L860.10 864.55L860.20 864.58L860.30 864.60L860.40 864.60L860.50 864.59L860.60 864.57L860.70 864.53L860.80 864.48L860.90 864.41L861.00 864.33L861.10 864.24L861.20 864.13L861.30 864.00L861.40 863.86L861.50 863.71L861.60 863.55L861.70 863.37L861.80 863.19L861.90 862.99L862.00 862.79L862.10 862.59L862.20 862.37L862.30 862.16L862.40 861.95L862.50 861.74L862.60 861.53L862.70 861.33L862.80 861.14L862.90 860.96L863.00 860.79L863.10 860.64L863.20 860.50L863.30 860.38L863.40 860.28L863.50 860.20L863.60 860.15L863.70 860.12L863.80 860.12L863.90 860.14L864.00 860.19L864.10 860.27L864.20 860.37L864.30 860.50L864.40 860.66L864.50 860.84L864.60 861.04L864.70 861.26L864.80 861.51L864.90 861.76L865.00 862.03L865.10 862.31L865.20 862.60L865.30 862.88L865.40 863.16L865.50 863.43L865.60 863.69L865.70 863.93L865.80 864.14L865.90 864.32L866.00 864.46L866.10 864.55L866.20 864.60L866.30 864.58L866.40 864.50L866.50 864.34L866.60 864.11L866.70 863.78L866.80 863.36L866.90 862.84L867.00 862.21L867.10 861.46L867.20 860.59L867.30 859.59L867.40 858.45L867.50 857.17L867.60 855.74L867.70 854.16L867.80 852.43L867.90 850.53L868.00 848.46L868.10 846.23L868.20 843.83L868.30 841.25L868.40 838.50L868.50 835.58L868.60 832.48L868.70 829.22L868.80 825.79L868.90 822.21L869.00 818.47L869.10 814.59L869.20 810.58L869.30 806.45L869.40 802.23L869.50 797.93L869.60 793.58L869.70 789.20L869.80 784.83L869.90 780.50L870.00 776.24L870.10 772.11L870.20 768.13L870.30 764.36L870.40 760.84L870.50 757.62L870.60 754.74L870.70 752.24L870.80 750.16L870.90 748.53L871.00 747.38L871.10 746.71L871.20 746.55L871.30 746.90L871.40 747.73L871.50 749.05L871.60 750.83L871.70 753.03L871.80 755.63L871.90 758.59L872.00 761.86L872.10 765.40L872.20 769.17L872.30 773.12L872.40 777.23L872.50 781.43L872.60 785.71L872.70 790.03L872.80 794.34L872.90 798.64L873.00 802.89L873.10 807.07L873.20 811.16L873.30 815.14L873.40 819.01L873.50 822.74L873.60 826.34L873.70 829.78L873.80 833.06L873.90 836.19L874.00 839.14L874.10 841.93L874.20 844.55L874.30 846.99L874.40 849.26L874.50 851.35L874.60 853.28L874.70 855.04L874.80 856.63L874.90 858.06L875.00 859.33L875.10 860.44L875.20 861.41L875.30 862.24L875.40 862.93L875.50 863.49L875.60 863.92L875.70 864.25L875.80 864.46L875.90 864.58L876.00 864.60L876.10 864.54L876.20 864.40L876.30 864.19L876.40 863.93L876.50 863.62L876.60 863.26L876.70 862.87L876.80 862.45L876.90 862.01L877.00 861.57L877.10 861.11L877.20 860.66L877.30 860.21L877.40 859.78L877.50 859.37L877.60 858.98L877.70 858.62L877.80 858.29L877.90 857.99L878.00 857.73L878.10 857.51L878.20 857.33L878.30 857.20L878.40 857.11L878.50 857.06L878.60 857.05L878.70 857.09L878.80 857.17L878.90 857.29L879.00 857.44L879.10 857.63L879.20 857.86L879.30 858.11L879.40 858.39L879.50 858.69L879.60 859.01L879.70 859.35L879.80 859.70L879.90 860.06L880.00 860.43L880.10 860.80L880.20 861.16L880.30 861.52L880.40 861.88L880.50 862.22L880.60 862.54L880.70 862.85L880.80 863.14L880.90 863.40L881.00 863.65L881.10 863.86L881.20 864.05L881.30 864.22L881.40 864.35L881.50 864.46L881.60 864.53L881.70 864.58L881.80 864.60L881.90 864.59L882.00 864.56L882.10 864.50L882.20 864.41L882.30 864.31L882.40 864.19L882.50 864.04L882.60 863.89L882.70 863.72L882.80 863.53L882.90 863.34L883.00 863.15L883.10 862.95L883.20 862.75L883.30 862.55L883.40 862.36L883.50 862.18L883.60 862.00L883.70 861.83L883.80 861.68L883.90 861.54L884.00 861.41L884.10 861.30L884.20 861.21L884.30 861.14L884.40 861.09L884.50 861.06L884.60 861.05L884.70 861.06L884.80 861.09L884.90 861.14L885.00 861.20L885.10 861.29L885.20 861.39L885.30 861.51L885.40 861.64L885.50 861.78L885.60 861.94L885.70 862.10L885.80 862.27L885.90 862.45L886.00 862.63L886.10 862.81L886.20 862.99L886.30 863.17L886.40 863.35L886.50 863.52L886.60 863.68L886.70 863.83L886.80 863.97L886.90 864.10L887.00 864.22L887.10 864.32L887.20 864.41L887.30 864.48L887.40 864.53L887.50 864.57L887.60 864.59L887.70 864.60L887.80 864.59L887.90 864.56L888.00 864.52L888.10 864.46L888.20 864.39L888.30 864.30L888.40 864.21L888.50 864.10L888.60 863.98L888.70 863.86L888.80 863.73L888.90 863.60L889.00 863.46L889.10 863.32L889.20 863.18L889.30 863.05L889.40 862.91L889.50 862.79L889.60 862.67L889.70 862.55L889.80 862.45L889.90 862.36L890.00 862.27L890.10 862.21L890.20 862.15L890.30 862.11L890.40 862.08L890.50 862.06L890.60 862.06L890.70 862.08L890.80 862.11L890.90 862.15L891.00 862.20L891.10 862.27L891.20 862.35L891.30 862.44L891.40 862.54L891.50 862.65L891.60 862.77L891.70 862.89L891.80 863.02L891.90 863.15L892.00 863.28L892.10 863.42L892.20 863.55L892.30 863.68L892.40 863.81L892.50 863.93L892.60 864.04L892.70 864.15L892.80 864.24L892.90 864.33L893.00 864.41L893.10 864.47L893.20 864.52L893.30 864.56L893.40 864.59L893.50 864.60L893.60 864.60L893.70 864.58L893.80 864.55L893.90 864.51L894.00 864.46L894.10 864.40L894.20 864.32L894.30 864.23L894.40 864.14L894.50 864.04L894.60 863.93L894.70 863.81L894.80 863.69L894.90 863.57L895.00 863.45L895.10 863.32L895.20 863.20L895.30 863.08L895.40 862.97L895.50 862.86L895.60 862.76L895.70 862.66L895.80 862.58L895.90 862.50L896.00 862.44L896.10 862.38L896.20 862.34L896.30 862.31L896.40 862.30L896.50 862.29L896.60 862.30L896.70 862.33L896.80 862.36L896.90 862.41L897.00 862.47L897.10 862.54L897.20 862.63L897.30 862.72L897.40 862.82L897.50 862.92L897.60 863.04L897.70 863.15L897.80 863.27L897.90 863.40L898.00 863.52L898.10 863.64L898.20 863.76L898.30 863.88L898.40 863.99L898.50 864.10L898.60 864.20L898.70 864.29L898.80 864.37L898.90 864.44L899.00 864.49L899.10 864.54L899.20 864.57L899.30 864.59L899.40 864.60L899.50 864.59L899.60 864.57L899.70 864.54L899.80 864.49L899.90 864.43L900.00 864.36L900.10 864.28L900.20 864.19L900.30 864.08L900.40 863.50L900.50 863.36L900.60 863.23L900.70 863.09L900.80 862.96L900.90 862.84L901.00 862.72L901.10 862.60L901.20 862.50L901.30 862.40L901.40 862.32L901.50 862.25L901.60 862.19L901.70 862.14L901.80 862.11L901.90 862.09L902.00 862.09L902.10 862.10L902.20 862.13L902.30 862.17L902.40 862.22L902.50 862.29L902.60 862.37L902.70 862.46L902.80 862.57L902.90 862.68L903.00 862.80L903.10 862.93L903.20 863.06L903.30 863.20L903.40 863.34L903.50 863.48L903.60 863.62L903.70 863.75L903.80 863.88L903.90 864.00L904.00 864.12L904.10 864.23L904.20 864.32L904.30 864.40L904.40 864.47L904.50 864.53L904.60 864.57L904.70 864.59L904.80 864.60L904.90 864.59L905.00 864.56L905.10 864.52L905.20 864.46L905.30 864.39L905.40 864.29L905.50 864.19L905.60 864.07L905.70 863.94L905.80 863.79L905.90 863.64L906.00 863.48L906.10 863.31L906.20 863.14L906.30 862.97L906.40 862.79L906.50 862.62L906.60 862.45L906.70 862.28L906.80 862.12L906.90 861.97L907.00 861.83L907.10 861.70L907.20 861.59L907.30 861.49L907.40 861.41L907.50 861.35L907.60 861.30L907.70 861.28L907.80 861.27L907.90 861.28L908.00 861.32L908.10 861.37L908.20 861.44L908.30 861.53L908.40 861.63L908.50 861.76L908.60 861.90L908.70 862.05L908.80 862.21L908.90 862.38L909.00 862.56L909.10 862.74L909.20 862.93L909.30 863.12L909.40 863.31L909.50 863.49L909.60 863.67L909.70 863.83L909.80 863.99L909.90 864.13L910.00 864.26L910.10 864.37L910.20 864.46L910.30 864.53L910.40 864.57L910.50 864.60L910.60 864.60L910.70 864.57L910.80 864.52L910.90 864.44L911.00 864.34L911.10 864.21L911.20 864.06L911.30 863.89L911.40 863.69L911.50 863.47L911.60 863.24L911.70 862.99L911.80 862.73L911.90 862.45L912.00 862.17L912.10 861.89L912.20 861.60L912.30 861.31L912.40 861.02L912.50 860.74L912.60 860.48L912.70 860.22L912.80 859.98L912.90 859.77L913.00 859.57L913.10 859.40L913.20 859.25L913.30 859.13L913.40 859.05L913.50 858.99L913.60 858.97L913.70 858.98L913.80 859.03L913.90 859.10L914.00 859.21L914.10 859.36L914.20 859.53L914.30 859.73L914.40 859.96L914.50 860.22L914.60 860.49L914.70 860.79L914.80 861.09L914.90 861.41L915.00 861.74L915.10 862.07L915.20 862.40L915.30 862.72L915.40 863.03L915.50 863.32L915.60 863.60L915.70 863.85L915.80 864.07L915.90 864.25L916.00 864.40L916.10 864.51L916.20 864.58L916.30 864.60L916.40 864.57L916.50 864.49L916.60 864.35L916.70 864.16L916.80 863.92L916.90 863.62L917.00 863.27L917.10 862.87L917.20 862.41L917.30 861.91L917.40 861.37L917.50 860.78L917.60 860.16L917.70 859.51L917.80 858.83L917.90 858.13L918.00 857.42L918.10 856.70L918.20 855.99L918.30 855.28L918.40 854.59L918.50 853.91L918.60 853.27L918.70 852.67L918.80 852.11L918.90 851.60L919.00 851.16L919.10 850.77L919.20 850.46L919.30 850.22L919.40 850.06L919.50 849.98L919.60 849.99L919.70 850.09L919.80 850.27L919.90 850.55L920.00 850.91L920.10 851.36L920.20 851.88L920.30 852.49L920.40 853.17L920.50 853.91L920.60 854.70L920.70 855.55L920.80 856.42L920.90 857.33L921.00 858.24L921.10 859.15L921.20 860.05L921.30 860.91L921.40 861.72L921.50 862.46L921.60 863.13L921.70 863.69L921.80 864.13L921.90 864.44L922.00 864.59L922.10 864.56L922.20 864.35L922.30 863.92L922.40 863.27L922.50 862.38L922.60 861.23L922.70 859.81L922.80 858.10L922.90 856.10L923.00 853.79L923.10 851.17L923.20 848.23L923.30 844.96L923.40 841.36L923.50 837.43L923.60 833.17L923.70 828.59L923.80 823.68L923.90 818.47L924.00 812.94L924.10 807.12L924.20 801.03L924.30 794.67L924.40 788.06L924.50 781.23L924.60 774.19L924.70 766.96L924.80 759.58L924.90 752.06L925.00 744.44L925.10 736.73L925.20 728.97L925.30 721.18L925.40 713.40L925.50 705.65L925.60 697.96L925.70 690.36L925.80 682.86L925.90 675.51L926.00 668.32L926.10 661.31L926.20 654.52L926.30 647.95L926.40 641.62L926.50 635.55L926.60 629.75L926.70 624.23L926.80 619.01L926.90 614.08L927.00 609.45L927.10 605.12L927.20 601.08L927.30 597.35L927.40 593.90L927.50 590.74L927.60 587.85L927.70 585.22L927.80 582.85L927.90 580.71L928.00 578.80L928.10 577.10L928.20 575.59L928.30 574.27L928.40 573.11L928.50 572.10L928.60 571.23L928.70 570.48L928.80 569.85L928.90 569.31L929.00 568.87L929.10 568.50L929.20 568.21L929.30 567.98L929.40 567.81L929.50 567.69L929.60 567.62L929.70 567.60L929.80 567.62L929.90 567.69L930.00 567.81L930.10 567.98L930.20 568.21L930.30 568.50L930.40 568.87L930.50 569.31L930.60 569.85L930.70 570.48L930.80 571.23L930.90 572.10L931.00 573.11L931.10 574.27L931.20 575.59L931.30 577.10L931.40 578.80L931.50 580.71L931.60 582.85L931.70 585.22L931.80 587.85L931.90 590.74L932.00 593.90L932.10 597.35L932.20 601.08L932.30 605.12L932.40 609.45L932.50 614.08L932.60 619.01L932.70 624.23L932.80 629.75L932.90 635.55L933.00 641.62L933.10 647.95L933.20 654.52L933.30 661.31L933.40 668.32L933.50 675.51L933.60 682.86L933.70 690.36L933.80 697.96L933.90 705.65L934.00 713.40L934.10 721.18L934.20 728.97L934.30 736.73L934.40 744.44L934.50 752.06L934.60 759.58L934.70 766.96L934.80 774.19L934.90 781.23L935.00 788.06L935.10 794.67L935.20 801.03L935.30 807.12L935.40 812.94L935.50 818.47L935.60 823.68L935.70 828.59L935.80 833.17L935.90 837.43L936.00 841.36L936.10 844.96L936.20 848.23L936.30 851.17L936.40 853.79L936.50 856.10L936.60 858.10L936.70 859.81L936.80 861.23L936.90 862.38L937.00 863.27L937.10 863.92L937.20 864.35L937.30 864.56L937.40 864.59L937.50 864.44L937.60 864.13L937.70 863.69L937.80 863.13L937.90 862.46L938.00 861.72L938.10 860.91L938.20 860.05L938.30 859.15L938.40 858.24L938.50 857.33L938.60 856.42L938.70 855.55L938.80 854.70L938.90 853.91L939.00 853.17L939.10 852.49L939.20 851.88L939.30 851.36L939.40 850.91L939.50 850.55L939.60 850.27L939.70 850.09L939.80 849.99L939.90 849.98L940.00 850.06L940.10 850.22L940.20 850.46L940.30 850.77L940.40 851.16L940.50 851.60L940.60 852.11L940.70 852.67L940.80 853.27L940.90 853.91L941.00 854.59L941.10 855.28L941.20 855.99L941.30 856.70L941.40 857.42L941.50 858.13L941.60 858.83L941.70 859.51L941.80 860.16L941.90 860.78L942.00 861.37L942.10 861.91L942.20 862.41L942.30 862.87L942.40 863.27L942.50 863.62L942.60 863.92L942.70 864.16L942.80 864.35L942.90 864.49L943.00 864.57L943.10 864.60L943.20 864.58L943.30 864.51L943.40 864.40L943.50 864.25L943.60 864.07L943.70 863.85L943.80 863.60L943.90 863.32L944.00 863.03L944.10 862.72L944.20 862.40L944.30 862.07L944.40 861.74L944.50 861.41L944.60 861.09L944.70 860.79L944.80 860.49L944.90 860.22L945.00 859.96L945.10 859.73L945.20 859.53L945.30 859.36L945.40 859.21L945.50 859.10L945.60 859.03L945.70 858.98L945.80 858.97L945.90 858.99L946.00 859.05L946.10 859.13L946.20 859.25L946.30 859.40L946.40 859.57L946.50 859.77L946.60 859.98L946.70 860.22L946.80 860.48L946.90 860.74L947.00 861.02L947.10 861.31L947.20 861.60L947.30 861.89L947.40 862.17L947.50 862.45L947.60 862.73L947.70 862.99L947.80 863.24L947.90 863.47L948.00 863.69L948.10 863.89L948.20 864.06L948.30 864.21L948.40 864.34L948.50 864.44L948.60 864.52L948.70 864.57L948.80 864.60L948.90 864.60L949.00 864.57L949.10 864.53L949.20 864.46L949.30 864.37L949.40 864.26L949.50 864.13L949.60 863.99L949.70 863.83L949.80 863.67L949.90 863.49L950.00 863.31L950.10 863.12L950.20 862.93L950.30 862.74L950.40 862.56L950.50 862.38L950.60 862.21L950.70 862.05L950.80 861.90L950.90 861.76L951.00 861.63L951.10 861.53L951.20 861.44L951.30 861.37L951.40 861.32L951.50 861.28L951.60 861.27L951.70 861.28L951.80 861.30L951.90 861.35L952.00 861.41L952.10 861.49L952.20 861.59L952.30 861.70L952.40 861.83L952.50 861.97L952.60 862.12L952.70 862.28L952.80 862.45L952.90 862.62L953.00 862.79L953.10 862.97L953.20 863.14L953.30 863.31L953.40 863.48L953.50 863.64L953.60 863.79L953.70 863.94L953.80 864.07L953.90 864.19L954.00 864.29L954.10 864.39L954.20 864.46L954.30 864.52L954.40 864.56L954.50 864.59L954.60 864.60L954.70 864.59L954.80 864.57L954.90 864.53L955.00 864.47L955.10 864.40L955.20 864.32L955.30 864.23L955.40 864.12L955.50 864.00L955.60 863.88L955.70 863.75L955.80 863.62L955.90 863.48L956.00 863.34L956.10 863.20L956.20 863.06L956.30 862.93L956.40 862.80L956.50 862.68L956.60 862.57L956.70 862.46L956.80 862.37L956.90 862.29L957.00 862.22L957.10 862.17L957.20 862.13L957.30 862.10L957.40 862.09L957.50 862.09L957.60 862.11L957.70 862.14L957.80 862.19L957.90 862.25L958.00 862.32L958.10 862.40L958.20 862.50L958.30 862.60L958.40 862.72L958.50 862.84L958.60 862.96L958.70 863.09L958.80 863.23L958.90 863.36L959.00 863.50L959.10 864.08L959.20 864.19L959.30 864.28L959.40 864.36L959.50 864.43L959.60 864.49L959.70 864.54L959.80 864.57L959.90 864.59L960.00 864.60L960.10 864.59L960.20 864.57L960.30 864.54L960.40 864.49L960.50 864.44L960.60 864.37L960.70 864.29L960.80 864.20L960.90 864.10L961.00 863.99L961.10 863.88L961.20 863.76L961.30 863.64L961.40 863.52L961.50 863.40L961.60 863.27L961.70 863.15L961.80 863.04L961.90 862.92L962.00 862.82L962.10 862.72L962.20 862.63L962.30 862.54L962.40 862.47L962.50 862.41L962.60 862.36L962.70 862.33L962.80 862.30L962.90 862.29L963.00 862.30L963.10 862.31L963.20 862.34L963.30 862.38L963.40 862.44L963.50 862.50L963.60 862.58L963.70 862.66L963.80 862.76L963.90 862.86L964.00 862.97L964.10 863.08L964.20 863.20L964.30 863.32L964.40 863.45L964.50 863.57L964.60 863.69L964.70 863.81L964.80 863.93L964.90 864.04L965.00 864.14L965.10 864.23L965.20 864.32L965.30 864.40L965.40 864.46L965.50 864.51L965.60 864.55L965.70 864.58L965.80 864.60L965.90 864.60L966.00 864.59L966.10 864.56L966.20 864.52L966.30 864.47L966.40 864.41L966.50 864.33L966.60 864.24L966.70 864.15L966.80 864.04L966.90 863.93L967.00 863.81L967.10 863.68L967.20 863.55L967.30 863.42L967.40 863.28L967.50 863.15L967.60 863.02L967.70 862.89L967.80 862.77L967.90 862.65L968.00 862.54L968.10 862.44L968.20 862.35L968.30 862.27L968.40 862.20L968.50 862.15L968.60 862.11L968.70 862.08L968.80 862.06L968.90 862.06L969.00 862.08L969.10 862.11L969.20 862.15L969.30 862.21L969.40 862.27L969.50 862.36L969.60 862.45L969.70 862.55L969.80 862.67L969.90 862.79L970.00 862.91L970.10 863.05L970.20 863.18L970.30 863.32L970.40 863.46L970.50 863.60L970.60 863.73L970.70 863.86L970.80 863.98L970.90 864.10L971.00 864.21L971.10 864.30L971.20 864.39L971.30 864.46L971.40 864.52L971.50 864.56L971.60 864.59L971.70 864.60L971.80 864.59L971.90 864.57L972.00 864.53L972.10 864.48L972.20 864.41L972.30 864.32L972.40 864.22L972.50 864.10L972.60 863.97L972.70 863.83L972.80 863.68L972.90 863.52L973.00 863.35L973.10 863.17L973.20 862.99L973.30 862.81L973.40 862.63L973.50 862.45L973.60 862.27L973.70 862.10L973.80 861.94L973.90 861.78L974.00 861.64L974.10 861.51L974.20 861.39L974.30 861.29L974.40 861.20L974.50 861.14L974.60 861.09L974.70 861.06L974.80 861.05L974.90 861.06L975.00 861.09L975.10 861.14L975.20 861.21L975.30 861.30L975.40 861.41L975.50 861.54L975.60 861.68L975.70 861.83L975.80 862.00L975.90 862.18L976.00 862.36L976.10 862.55L976.20 862.75L976.30 862.95L976.40 863.15L976.50 863.34L976.60 863.53L976.70 863.72L976.80 863.89L976.90 864.04L977.00 864.19L977.10 864.31L977.20 864.41L977.30 864.50L977.40 864.56L977.50 864.59L977.60 864.60L977.70 864.58L977.80 864.53L977.90 864.46L978.00 864.35L978.10 864.22L978.20 864.05L978.30 863.86L978.40 863.65L978.50 863.40L978.60 863.14L978.70 862.85L978.80 862.54L978.90 862.22L979.00 861.88L979.10 861.52L979.20 861.16L979.30 860.80L979.40 860.43L979.50 860.06L979.60 859.70L979.70 859.35L979.80 859.01L979.90 858.69L980.00 858.39L980.10 858.11L980.20 857.86L980.30 857.63L980.40 857.44L980.50 857.29L980.60 857.17L980.70 857.09L980.80 857.05L980.90 857.06L981.00 857.11L981.10 857.20L981.20 857.33L981.30 857.51L981.40 857.73L981.50 857.99L981.60 858.29L981.70 858.62L981.80 858.98L981.90 859.37L982.00 859.78L982.10 860.21L982.20 860.66L982.30 861.11L982.40 861.57L982.50 862.01L982.60 862.45L982.70 862.87L982.80 863.26L982.90 863.62L983.00 863.93L983.10 864.19L983.20 864.40L983.30 864.54L983.40 864.60L983.50 864.58L983.60 864.46L983.70 864.25L983.80 863.92L983.90 863.49L984.00 862.93L984.10 862.24L984.20 861.41L984.30 860.44L984.40 859.33L984.50 858.06L984.60 856.63L984.70 855.04L984.80 853.28L984.90 851.35L985.00 849.26L985.10 846.99L985.20 844.55L985.30 841.93L985.40 839.14L985.50 836.19L985.60 833.06L985.70 829.78L985.80 826.34L985.90 822.74L986.00 819.01L986.10 815.14L986.20 811.16L986.30 807.07L986.40 802.89L986.50 798.64L986.60 794.34L986.70 790.03L986.80 785.71L986.90 781.43L987.00 777.23L987.10 773.12L987.20 769.17L987.30 765.40L987.40 761.86L987.50 758.59L987.60 755.63L987.70 753.03L987.80 750.83L987.90 749.05L988.00 747.73L988.10 746.90L988.20 746.55L988.30 746.71L988.40 747.38L988.50 748.53L988.60 750.16L988.70 752.24L988.80 754.74L988.90 757.62L989.00 760.84L989.10 764.36L989.20 768.13L989.30 772.11L989.40 776.24L989.50 780.50L989.60 784.83L989.70 789.20L989.80 793.58L989.90 797.93L990.00 802.23L990.10 806.45L990.20 810.58L990.30 814.59L990.40 818.47L990.50 822.21L990.60 825.79L990.70 829.22L990.80 832.48L990.90 835.58L991.00 838.50L991.10 841.25L991.20 843.83L991.30 846.23L991.40 848.46L991.50 850.53L991.60 852.43L991.70 854.16L991.80 855.74L991.90 857.17L992.00 858.45L992.10 859.59L992.20 860.59L992.30 861.46L992.40 862.21L992.50 862.84L992.60 863.36L992.70 863.78L992.80 864.11L992.90 864.34L993.00 864.50L993.10 864.58L993.20 864.60L993.30 864.55L993.40 864.46L993.50 864.32L993.60 864.14L993.70 863.93L993.80 863.69L993.90 863.43L994.00 863.16L994.10 862.88L994.20 862.60L994.30 862.31L994.40 862.03L994.50 861.76L994.60 861.51L994.70 861.26L994.80 861.04L994.90 860.84L995.00 860.66L995.10 860.50L995.20 860.37L995.30 860.27L995.40 860.19L995.50 860.14L995.60 860.12L995.70 860.12L995.80 860.15L995.90 860.20L996.00 860.28L996.10 860.38L996.20 860.50L996.30 860.64L996.40 860.79L996.50 860.96L996.60 861.14L996.70 861.33L996.80 861.53L996.90 861.74L997.00 861.95L997.10 862.16L997.20 862.37L997.30 862.59L997.40 862.79L997.50 862.99L997.60 863.19L997.70 863.37L997.80 863.55L997.90 863.71L998.00 863.86L998.10 864.00L998.20 864.13L998.30 864.24L998.40 864.33L998.50 864.41L998.60 864.48L998.70 864.53L998.80 864.57L998.90 864.59L999.00 864.60L999.10 864.60L999.20 864.58L999.30 864.55L999.40 864.52L999.50 864.47L999.60 864.41L999.70 864.35L999.80 864.28L999.90 864.21L1000.00 864.14L1000.10 864.06L1000.20 863.98L1000.30 863.90L1000.40 863.82L1000.50 863.74L1000.60 863.67L1000.70 863.60L1000.80 863.53L1000.90 863.47L1001.00 863.42L1001.10 863.37L1001.20 863.33L1001.30 863.29L1001.40 863.27L1001.50 863.25L1001.60 863.24L1001.70 863.24L1001.80 863.25L1001.90 863.26L1002.00 863.28L1002.10 863.31L1002.20 863.34L1002.30 863.38L1002.40 863.43L1002.50 863.48L1002.60 863.54L1002.70 863.59L1002.80 863.66L1002.90 863.72L1003.00 863.79L1003.10 863.86L1003.20 863.92L1003.30 863.99L1003.40 864.06L1003.50 864.12L1003.60 864.18L1003.70 864.24L1003.80 864.30L1003.90 864.35L1004.00 864.40L1004.10 864.44L1004.20 864.48L1004.30 864.51L1004.40 864.54L1004.50 864.56L1004.60 864.58L1004.70 864.59L1097.70 864.60L1104.00 851.89L1110.30 864.60L1162.10 864.60" stroke="#4a5199" stroke-width="2.8" fill="none" stroke-linejoin="round"/>
<text transform="matrix(0.7856 0 0 1 1171.24 871.80)" font-size="27.80">s</text><text transform="matrix(1.2390 0 0 1 1182.56 871.80)" font-size="27.80">i</text><text transform="matrix(1.0495 0 0 1 1189.30 871.80)" font-size="27.80">n</text><text transform="matrix(0.9961 0 0 1 1211.93 871.80)" font-size="27.80" font-style="italic">φ</text>
<text transform="matrix(0.9652 0 0 1 681.98 526.80)" font-size="28.8">D</text>
</svg></body></html>
